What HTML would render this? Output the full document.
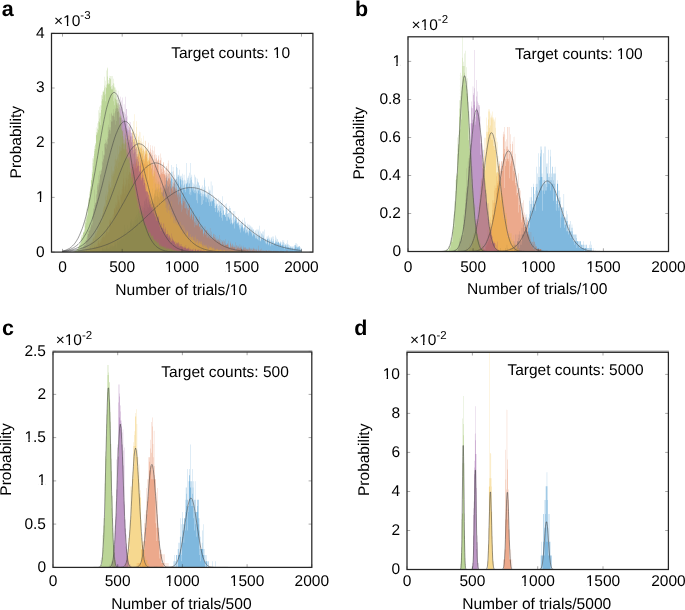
<!DOCTYPE html><html><head><meta charset="utf-8"><style>html,body{margin:0;padding:0;background:#fff}svg{display:block;will-change:transform}text{text-rendering:geometricPrecision;font-family:'Liberation Sans', sans-serif;fill:#000}</style></head><body>
<svg width="685" height="610" viewBox="0 0 685 610">
<g>
<clipPath id="cpa"><rect x="51.5" y="33.4" width="261.40" height="218.70"/></clipPath>
<g clip-path="url(#cpa)">
<path transform="matrix(0.119500,0,0,-0.97913000,62.5,252.1)" d="M0 0h218V1h2V0h6V1h2V0h2V1h2V0h12V2h2V0h6V1h2V3h2V0h4V1h4V0h2V1h2V0h8V4h2V0h2V1h2V0h2V1h10V0h2V2h2V1h2V0h2V1h2V2h2V5h2V0h2V1h4V2h2V1h2V0h2V1h8V2h2V3h2V4h8V3h2V2h2V3h2V5h2V3h2V5h2V1h2V4h2V2h2V3h2V6h2V4h2V6h6V4h2V3h4V8h4V4h2V3h2V4h2V3h2V4h2V2h2V4h2V8h2V6h2V4h2V7h2V6h2V10h2V8h2V7h2V3h2V6h2V5h2V10h2V6h2V7h2V5h2V6h6V12h2V10h2V9h2V6h2V7h2V13h2V8h2V10h4V9h2V12h2V4h2V6h2V13h2V11h2V13h2V14h2V12h2V11h2V9h2V15h4V11h2V12h2V14h2V15h2V16h2V15h2V12h4V16h2V19h2V14h2V18h2V13h2V15h6V18h2V15h2V14h2V20h2V29h2V12h2V20h2V28h2V24h2V18h2V21h2V25h2V17h2V18h2V20h2V23h2V18h2V19h2V28h2V27h2V20h2V24h4V18h2V23h2V19h2V25h2V24h2V22h2V30h2V32h2V31h2V20h2V34h2V21h2V30h2V33h2V34h2V27h2V26h4V32h2V31h2V29h2V28h2V34h2V20h2V32h2V34h2V28h2V37h2V36h2V33h2V27h2V33h2V34h2V29h2V38h2V44h2V35h4V33h2V39h2V28h2V44h4V41h2V25h2V42h2V37h2V42h2V40h2V33h2V36h2V47h2V41h2V37h2V43h4V50h2V42h2V47h2V37h2V45h2V39h2V46h2V43h2V48h2V45h2V53h2V52h4V42h2V55h2V49h2V54h2V44h2V60h2V55h2V54h2V42h2V48h2V51h2V50h2V46h2V55h2V46h2V57h2V45h2V54h2V64h2V52h2V56h4V48h2V52h2V55h2V58h2V51h2V53h2V52h2V50h2V54h2V65h2V43h2V51h2V54h2V55h2V50h2V58h2V56h2V59h2V63h2V60h2V57h2V63h2V64h2V70h2V51h2V66h2V57h2V64h2V57h2V64h2V65h2V61h2V59h2V72h2V65h2V56h4V62h2V54h2V65h2V61h2V57h2V73h2V66h4V61h4V66h2V58h2V73h2V60h2V68h2V61h2V62h2V64h2V66h2V64h2V68h2V67h2V63h2V78h2V55h2V69h2V65h2V69h2V73h2V74h2V77h2V81h2V76h2V73h2V68h2V78h2V65h2V71h2V67h2V76h2V67h2V80h2V74h2V61h2V69h2V70h2V73h2V72h2V67h2V81h2V89h2V76h2V82h2V75h2V60h2V82h2V75h2V63h2V87h2V67h2V74h2V67h2V70h2V74h2V79h2V73h2V70h2V74h2V75h2V64h2V74h2V87h2V90h2V62h2V75h2V77h2V72h2V61h2V86h2V79h2V70h2V79h2V77h2V78h2V84h2V61h2V60h2V75h4V77h2V78h2V73h2V78h2V69h2V65h2V74h2V60h2V80h2V76h2V73h2V66h2V65h2V68h2V73h2V79h2V69h2V64h2V74h2V70h2V64h2V61h2V73h2V64h2V70h2V69h2V91h2V70h2V71h2V66h2V76h2V74h2V76h2V78h2V65h2V67h2V70h2V59h2V70h2V81h2V73h2V76h2V61h2V91h2V58h2V66h2V74h2V77h2V79h2V65h2V63h2V66h2V71h2V67h2V70h2V61h2V65h2V69h2V79h2V63h2V60h2V64h2V60h2V77h2V67h2V76h2V69h2V62h2V53h2V65h2V75h2V60h2V72h2V50h2V71h2V63h4V71h2V59h2V68h2V64h2V68h2V64h2V62h2V64h2V60h2V57h2V48h2V66h2V60h2V57h2V59h2V68h2V49h2V62h2V57h2V66h2V59h2V53h2V64h2V59h2V76h2V74h2V56h2V59h2V67h2V57h2V51h2V61h2V56h4V58h2V60h2V55h2V60h2V54h2V51h2V58h2V60h2V67h2V54h2V62h2V64h2V47h2V63h2V51h2V52h2V58h2V72h2V47h2V56h2V52h2V53h2V68h2V52h4V55h2V54h4V56h2V58h2V53h2V54h2V45h2V50h2V47h2V45h2V55h2V41h2V49h2V55h2V47h2V48h2V50h2V45h2V49h2V41h2V40h2V43h2V42h2V47h2V55h2V51h2V36h2V48h2V41h2V42h2V47h2V53h2V45h2V50h2V40h2V50h2V35h2V47h2V38h2V32h2V57h2V46h2V48h2V43h2V42h2V38h6V39h2V38h2V40h2V36h4V49h2V45h2V50h2V32h2V45h2V39h2V44h2V32h2V39h2V36h2V40h4V36h2V35h2V33h2V47h2V34h2V45h2V29h2V35h2V42h2V45h2V33h2V39h2V30h2V41h2V35h2V28h2V29h2V30h2V29h2V37h2V30h2V42h2V37h2V31h2V24h2V33h2V42h2V34h2V36h4V32h2V33h2V34h2V35h2V29h2V30h4V31h2V29h2V27h2V30h2V31h2V36h2V28h4V25h2V23h2V33h2V24h2V30h2V20h2V28h2V27h2V31h2V25h2V30h2V28h2V33h2V26h2V30h2V24h4V25h2V21h2V22h2V35h2V25h4V28h2V20h2V31h2V28h2V19h2V25h2V23h2V20h2V23h2V21h2V20h2V29h2V26h2V17h2V22h2V19h2V28h2V21h2V24h2V28h2V24h2V26h2V22h2V27h2V21h4V26h2V24h2V19h2V20h2V16h2V23h2V17h2V25h2V20h2V23h2V18h2V23h2V18h2V19h2V17h2V19h2V22h4V14h2V17h2V15h2V14h2V23h2V17h2V19h2V17h2V23h2V13h4V21h2V23h2V16h2V12h2V16h2V17h2V18h2V27h2V11h2V12h2V21h2V11h2V15h2V19h4V14h4V18h2V13h2V21h2V13h2V17h2V21h2V15h2V14h2V23h2V12h2V14h2V11h2V13h2V14h2V9h2V13h2V12h2V11h2V9h2V8h2V16h2V13h2V14h2V13h2V16h2V14h2V7h2V17h2V8h2V15h2V13h2V12h2V10h2V11h2V8h2V6h2V12h2V15h2V8h2V15h2V13h2V11h4V10h2V16h2V7h4V13h2V16h2V11h2V9h4V8h2V9h2V12h2V17h2V10h2V9h2V15h2V10h2V11h2V7h2V13h4V9h2V10h2V6h2V10h6V11h2V6h2V9h2V8h2V9h2V10h2V8h2V9h2V11h2V10h2V5h2V7h8V12h2V8h2V10h2V7h2V10h2V5h2V12h2V3h2V5h2V9h2V7h2V8h4V6h2V7h4V9h2V4h2V5h2V7h2V8h2V12h2V5h6V8h2V5h2V7h2V4h2V7h2V5h2V4h2V6h2V4h2V5h2V6h2V5h2V3h2V4h2V6h2V4h2V6h2V5h2V4h4V2h2V3h2V6h2V4h4V3h2V7h4V5h2V9h2V7h4V6h2V5h2V9h2V3h2V8h2V4h2V5h4V6h2V5h4V6h2V2h2V6h6V4h2V5h2V3h2V1h2V2h2V3h2V4h2V0z" fill="#0072bd" fill-opacity="0.5"/>
<path transform="matrix(0.119500,0,0,-0.70927667,62.5,252.1)" d="M0 0h148V1h2V0h8V1h4V0h2V1h2V0h2V1h2V0h6V1h2V0h2V1h6V2h2V0h6V1h4V2h2V4h2V3h2V1h2V2h2V3h2V2h2V1h2V2h6V3h2V2h2V1h2V0h2V5h2V6h2V3h2V7h2V5h2V4h8V6h2V4h2V10h2V4h2V3h2V7h2V6h2V4h2V8h2V9h2V11h2V7h2V8h2V7h2V5h2V11h2V7h2V9h4V7h2V9h2V12h4V6h2V9h2V15h2V16h4V13h2V18h2V16h2V12h6V14h2V17h2V15h2V18h2V19h2V15h2V19h2V20h2V27h2V21h6V30h2V22h2V25h2V22h2V24h2V21h2V22h2V29h4V26h2V23h2V26h2V30h2V29h2V32h2V33h2V35h2V28h2V25h2V37h4V28h4V32h2V36h2V28h2V31h2V46h2V42h2V46h2V45h4V44h2V48h2V49h2V45h2V43h2V38h2V41h2V50h2V53h2V42h2V49h2V45h2V53h2V54h2V60h2V61h2V62h4V60h2V57h2V63h2V67h2V71h2V66h2V70h2V63h2V66h2V80h2V63h2V68h2V81h2V71h2V79h2V73h2V85h2V75h2V88h2V73h2V70h2V66h2V82h2V80h2V60h2V81h4V78h2V84h2V89h2V93h2V82h2V96h2V89h2V102h2V119h2V104h2V95h2V92h2V99h2V89h2V83h2V107h2V96h2V94h2V104h2V92h2V87h2V113h2V102h2V105h2V102h2V88h2V94h2V120h2V97h2V103h2V109h4V116h2V113h2V96h2V113h2V111h2V110h2V90h2V106h2V112h2V132h2V101h2V126h2V117h2V121h2V128h2V111h2V120h2V124h4V120h2V125h2V116h2V129h2V119h2V140h2V121h2V125h2V118h2V127h2V134h2V136h2V132h2V129h2V126h2V121h2V123h2V134h2V136h2V109h2V135h2V146h2V141h2V138h2V140h2V114h2V116h2V141h2V147h2V124h2V140h2V131h2V127h2V139h2V154h2V149h2V135h2V130h2V138h2V146h2V143h2V131h2V125h2V131h2V125h2V143h2V136h2V128h2V140h2V138h4V157h2V123h2V134h2V144h2V145h2V138h2V132h2V127h2V124h2V128h2V123h2V154h2V102h2V129h2V139h2V143h2V140h2V128h2V151h2V125h2V146h2V141h2V138h2V140h2V134h2V118h2V144h2V150h2V137h2V124h2V130h2V123h2V107h2V131h2V143h2V137h2V127h2V149h2V122h2V124h2V138h2V125h2V131h2V133h2V132h2V137h2V118h2V124h2V128h2V123h2V129h2V130h2V131h2V135h2V114h2V137h2V108h2V129h2V110h2V122h2V129h2V139h2V109h2V130h2V133h2V122h2V117h2V111h2V120h2V113h2V110h2V122h2V124h2V118h2V127h2V126h2V110h2V115h2V110h2V115h2V109h2V112h2V108h2V117h2V105h2V121h4V91h2V109h2V118h2V100h2V111h2V101h2V125h2V110h2V129h2V104h2V103h2V105h2V114h2V111h2V113h2V108h2V101h2V81h2V106h2V96h2V91h2V89h2V90h2V92h2V94h2V92h2V99h2V88h2V114h2V85h2V97h2V105h2V91h2V100h2V99h2V91h2V96h2V90h2V87h2V81h2V89h2V103h2V92h2V85h4V80h2V82h2V77h2V90h2V86h2V81h2V67h2V86h2V78h2V88h2V71h2V92h4V81h2V83h2V72h2V68h2V66h2V69h2V57h2V77h4V66h2V60h2V69h2V75h2V72h2V83h2V72h2V75h2V71h2V62h2V74h2V71h2V62h2V61h2V73h2V64h2V67h2V54h2V68h2V67h2V61h2V52h2V62h4V59h2V69h2V59h2V65h2V68h2V62h2V67h2V49h2V51h2V47h2V57h2V53h2V56h2V62h2V53h4V56h2V45h2V50h2V46h2V52h2V58h2V53h2V50h2V42h2V35h2V43h2V49h2V47h2V41h2V49h2V38h2V44h2V51h2V38h4V49h2V47h2V39h2V46h2V37h2V40h2V42h2V46h2V42h2V35h2V36h4V50h2V38h2V37h4V30h2V33h2V39h2V31h2V34h2V33h2V32h2V33h2V37h2V31h2V22h2V26h2V25h2V27h2V36h2V30h2V29h2V27h2V36h2V24h2V25h2V31h2V30h2V31h2V29h2V31h2V21h2V26h2V24h2V32h2V20h2V22h2V29h2V27h2V23h2V27h2V24h2V22h2V19h2V34h2V19h2V21h2V25h2V21h2V24h2V29h2V19h2V18h4V20h2V21h2V22h2V25h2V17h2V26h2V22h2V17h2V21h4V25h2V24h2V18h4V20h2V17h2V14h2V19h2V17h2V22h2V17h2V18h2V15h2V16h2V17h2V14h2V19h2V18h2V16h2V14h2V16h2V24h2V18h2V12h2V14h2V12h2V11h4V17h2V10h2V14h2V16h2V10h2V15h2V14h2V17h2V11h4V9h2V8h2V9h2V15h2V16h2V18h2V10h4V12h2V11h2V10h6V12h2V13h2V10h2V11h4V7h2V16h2V9h2V7h4V6h4V7h2V15h2V12h2V7h2V12h2V6h2V8h2V10h2V8h2V11h2V12h2V8h2V7h2V9h2V7h4V6h2V10h2V7h2V6h2V8h4V7h2V14h2V3h2V4h2V5h2V9h2V4h2V10h2V9h2V6h2V7h2V5h2V9h2V8h2V7h2V5h4V6h4V4h2V11h2V7h2V8h2V5h6V4h2V9h2V7h2V2h2V4h2V3h4V9h2V4h2V5h2V7h2V4h2V7h2V5h2V3h2V6h2V7h2V4h2V3h2V6h2V5h2V4h2V2h2V4h6V3h2V5h2V3h2V5h2V2h2V4h2V7h2V4h2V6h2V2h2V5h2V3h2V1h2V4h2V5h4V2h2V4h2V1h2V2h2V3h4V5h2V2h2V4h2V6h2V5h2V4h2V2h2V5h2V2h2V4h2V1h2V2h2V4h2V3h2V2h2V4h2V3h2V5h2V2h6V0h2V9h2V4h2V3h2V1h4V2h4V3h2V1h2V4h2V1h2V3h4V5h2V1h4V2h4V1h2V0h2V3h2V1h2V3h2V1h2V2h4V1h2V2h4V1h2V3h2V0h2V1h2V2h4V3h2V2h4V1h2V2h2V1h4V3h2V2h2V1h4V3h2V1h6V2h2V1h2V2h2V0h2V2h4V1h4V0h2V1h6V0h4V2h4V1h2V0h2V2h2V0h2V1h6V0h2V2h2V0h4V1h2V2h2V0h2V1h4V0h2V2h2V0h4V1h4V0h10V1h2V2h2V0h2V2h2V1h2V0h6V1h2V0h2V1h2V0h2V1h2V0h2V1h2V0h10V1h2V0h4V1h2V2h2V0h4V3h2V1h2V0h4V3h2V0h18V1h2V0h4V1h2V0h4V1h4V0h4V1h4V0h4V1h2V0h16V1h2V0h2V2h2V0h28V1h2V0h14V0z" fill="#d95319" fill-opacity="0.5"/>
<path transform="matrix(0.119500,0,0,-0.58437833,62.5,252.1)" d="M0 0h106V1h2V0h6V1h2V0h8V1h2V0h2V1h4V0h4V1h2V2h4V1h10V3h2V1h2V0h2V3h2V1h4V5h2V1h2V2h2V1h2V3h2V7h2V3h4V2h2V3h2V6h2V3h2V6h2V3h2V4h2V9h2V5h2V8h2V5h2V6h2V8h2V4h2V11h2V7h2V11h2V9h2V11h2V7h2V5h2V10h2V6h2V11h4V12h2V15h2V18h2V11h2V15h2V16h2V17h2V18h2V19h2V17h2V16h2V25h2V22h2V24h2V26h2V23h2V27h2V29h2V19h2V27h2V25h2V31h2V36h2V27h2V34h2V35h2V28h2V32h2V37h2V34h2V36h2V42h2V45h4V41h2V50h2V37h2V51h2V50h2V44h2V55h2V44h2V53h2V66h2V56h2V54h4V50h2V55h2V63h2V52h2V63h2V65h2V67h2V73h2V71h2V78h2V75h2V63h2V81h2V78h4V83h2V77h2V99h2V79h2V95h2V89h6V105h2V97h2V103h2V100h2V97h2V92h2V103h2V113h2V122h2V117h2V109h2V121h2V116h2V129h2V111h2V120h2V112h2V109h2V123h2V132h2V110h2V147h2V134h2V115h2V139h2V130h2V138h2V139h2V134h2V130h2V138h2V146h2V148h2V134h2V159h2V142h2V165h2V150h2V159h2V158h2V147h2V156h2V159h2V162h2V160h2V144h2V183h2V158h2V153h2V167h2V168h2V169h2V182h2V171h2V181h2V154h2V199h2V173h2V180h2V174h2V197h2V184h2V173h2V178h2V208h2V187h2V185h2V205h2V177h2V176h2V185h2V194h2V183h2V174h2V185h2V177h2V188h2V210h2V200h2V212h2V188h2V176h2V213h2V194h2V176h2V188h2V206h2V188h2V194h2V201h2V179h2V205h2V199h2V208h2V219h2V193h2V173h2V200h2V184h2V196h2V208h2V197h2V192h2V173h2V189h2V197h2V180h2V205h2V210h2V207h2V224h2V203h2V193h2V207h2V194h2V236h2V194h2V193h2V182h2V204h2V189h2V190h2V194h2V224h2V180h2V214h2V202h2V168h2V192h2V183h2V185h2V187h2V197h2V192h2V199h2V206h2V192h2V180h2V188h2V205h2V190h2V184h2V178h2V179h2V183h2V177h2V195h2V177h2V173h2V170h2V184h2V188h2V199h2V182h2V175h2V177h2V182h2V159h2V162h2V171h2V190h2V160h2V174h2V180h2V173h2V175h2V173h2V179h2V171h2V169h2V177h2V180h2V156h2V157h2V169h2V158h2V162h2V169h2V159h2V161h2V154h2V153h2V138h2V152h2V165h2V158h2V144h2V141h2V151h2V133h4V148h2V130h2V125h2V135h2V140h2V141h2V110h2V118h2V139h2V138h2V134h2V126h2V137h2V106h2V120h2V132h2V117h2V105h2V125h2V130h2V111h2V122h2V117h4V129h2V103h2V116h2V120h2V107h2V116h2V121h2V115h2V109h2V118h2V107h2V110h2V106h2V111h2V99h4V97h2V106h2V107h2V95h4V96h2V92h2V89h2V84h2V109h2V95h2V94h2V91h2V76h2V93h2V87h2V86h2V83h2V76h2V69h2V88h2V99h2V67h2V78h2V73h2V81h2V83h2V71h2V81h2V71h2V84h2V71h2V72h2V65h2V78h2V57h2V72h2V73h2V87h2V69h2V68h2V61h2V64h2V67h2V60h2V64h2V59h2V50h2V58h2V64h2V66h2V54h2V61h2V60h2V48h2V55h2V50h2V54h2V53h2V47h2V51h2V56h2V58h2V56h2V46h2V51h4V48h2V46h2V50h2V45h2V47h2V42h2V44h2V49h2V48h2V52h2V43h2V40h2V38h2V47h2V37h4V40h2V31h2V41h2V38h2V46h4V30h2V35h2V32h2V44h2V41h2V32h2V33h2V38h2V31h2V35h2V30h2V26h2V33h2V38h2V32h2V27h2V36h2V34h2V33h2V36h2V25h2V28h2V22h2V25h4V24h2V28h2V22h2V29h2V26h2V31h2V16h2V26h4V22h2V21h2V26h2V24h2V27h2V21h2V27h2V26h2V21h2V20h2V21h2V20h2V19h2V26h2V18h2V17h2V29h2V25h2V12h2V16h2V22h2V17h2V16h2V19h2V23h2V22h2V19h2V13h2V9h2V15h2V20h2V15h2V19h2V15h2V19h2V17h2V15h2V18h2V14h2V17h2V14h2V13h2V18h4V14h2V8h2V13h2V11h2V12h2V15h2V8h2V10h2V12h4V10h2V12h2V9h2V11h2V13h2V7h2V11h2V7h2V13h2V9h4V11h2V5h2V8h2V7h2V8h2V12h2V6h2V5h2V4h2V7h2V10h2V6h2V9h6V8h4V9h2V7h2V10h2V8h2V5h2V7h2V3h2V7h4V8h2V6h2V4h2V10h2V6h4V3h6V4h4V3h2V6h2V4h4V5h6V6h2V4h2V3h6V2h2V4h2V2h2V4h6V3h2V4h4V6h2V4h2V2h2V4h4V2h2V3h2V2h2V3h2V2h2V3h2V2h2V5h2V3h6V4h4V3h2V1h2V2h2V1h2V4h2V0h2V1h2V4h2V2h2V1h2V0h2V4h2V1h4V3h2V1h2V3h2V4h2V2h2V0h2V2h2V1h2V2h2V6h2V1h2V2h2V3h2V1h2V3h6V1h2V2h6V3h2V2h2V1h2V0h2V2h2V1h2V0h2V3h2V0h2V1h2V2h2V1h2V2h2V1h2V2h2V3h2V1h6V0h4V2h4V0h2V2h4V1h4V0h2V3h2V2h2V0h2V1h6V0h2V1h6V0h4V1h6V0h2V1h2V0h4V1h2V0h2V2h4V0h10V2h2V1h2V2h2V0h14V1h4V0h12V1h2V0h12V1h2V2h2V0h6V1h2V0h2V1h2V0h2V1h2V2h2V0h2V1h2V0h24V1h2V0h2V1h2V0h16V1h2V0h4V1h2V0h4V1h4V0h6V1h2V0h14V1h2V0h16V1h2V0h2V1h2V0h6V1h2V0h2V1h2V0h96V1h2V0h130V1h2V0h30V0z" fill="#edb120" fill-opacity="0.5"/>
<path transform="matrix(0.119500,0,0,-0.47680167,62.5,252.1)" d="M0 0h66V1h2V0h26V2h2V0h2V1h2V0h2V2h2V0h2V1h2V3h2V2h2V1h2V2h2V1h2V3h2V2h2V1h2V2h2V1h2V3h2V4h2V3h2V5h2V4h6V3h2V7h2V6h2V9h4V3h4V12h2V11h2V7h6V12h2V10h2V11h2V13h2V14h2V10h2V19h2V18h2V15h2V12h2V22h2V15h4V25h2V22h2V25h4V31h2V22h2V26h2V39h2V28h2V34h2V44h2V38h2V45h2V47h2V38h2V49h2V61h2V46h2V44h2V51h2V47h2V54h2V53h2V64h2V57h2V62h2V59h2V56h2V74h2V61h2V74h2V79h2V76h2V92h2V85h2V91h2V82h2V99h2V91h2V131h2V102h2V98h2V103h2V104h2V119h2V105h2V122h2V109h2V128h2V113h2V144h2V140h2V136h2V131h2V145h2V161h2V140h2V144h2V170h2V150h2V154h2V161h2V171h2V164h2V163h2V165h2V173h2V170h2V173h2V191h2V178h2V212h2V189h2V187h2V194h2V196h2V203h2V205h2V204h2V202h2V227h4V228h2V236h2V229h2V220h2V217h2V227h2V234h2V231h2V225h2V227h2V237h2V241h2V262h2V238h2V267h2V253h2V247h2V256h2V262h2V257h2V290h2V262h2V255h2V248h2V277h2V274h2V290h2V274h2V292h2V286h2V274h2V286h2V287h2V285h2V300h2V291h2V286h2V276h2V278h2V284h2V291h2V293h2V267h2V300h2V296h2V303h2V309h2V275h2V301h2V320h2V312h2V294h2V301h2V302h2V329h2V295h2V312h2V300h2V282h2V304h2V284h2V310h2V314h2V312h2V326h2V301h2V282h2V318h2V282h2V308h2V299h2V324h2V294h2V304h2V277h4V275h2V295h4V310h2V277h2V273h2V293h2V282h2V289h2V274h2V326h2V268h2V300h2V283h2V300h2V261h2V286h2V270h2V255h2V258h2V266h2V256h2V265h2V230h2V274h2V261h2V235h2V263h2V256h2V263h2V273h2V243h2V251h4V250h2V230h2V244h2V235h2V223h2V250h2V243h2V207h2V214h2V222h2V231h2V232h2V242h2V223h2V226h2V210h2V216h2V227h2V217h2V196h2V220h2V219h2V176h2V206h2V200h2V215h2V180h2V195h2V190h2V205h2V190h2V181h2V198h2V181h2V169h4V181h2V192h2V173h2V187h2V152h2V155h2V166h2V150h2V157h2V172h2V161h2V156h2V175h2V162h2V156h2V151h2V140h2V146h2V151h2V145h2V154h2V137h2V144h2V133h2V127h2V142h2V127h2V129h2V128h2V116h2V127h4V125h2V126h2V123h2V110h2V121h2V120h2V119h2V112h2V105h2V100h2V108h2V109h2V95h2V101h2V100h2V95h2V102h2V91h2V93h2V103h2V95h4V81h2V83h2V93h2V89h2V90h2V101h2V80h2V77h2V85h4V75h2V90h2V73h2V66h2V80h2V82h2V67h2V72h2V65h2V74h4V73h2V74h2V65h2V71h2V77h2V61h2V53h2V56h2V60h2V62h2V55h2V44h2V51h2V52h2V45h2V62h2V59h2V52h2V51h2V50h4V46h2V60h2V49h2V41h2V60h2V45h2V40h2V49h2V42h4V49h2V33h2V52h2V38h4V36h2V38h2V33h2V45h2V38h4V39h2V31h2V30h2V37h2V33h4V36h2V35h2V30h4V20h2V27h2V30h2V39h2V25h2V22h2V23h4V32h2V29h2V27h2V24h2V22h2V26h2V25h2V24h2V20h2V22h2V21h2V20h2V23h2V16h2V17h2V16h2V19h2V21h2V18h2V13h2V18h2V20h2V19h2V16h2V12h2V20h2V18h2V21h2V14h2V18h2V12h2V11h2V16h2V12h2V14h2V13h2V17h4V12h2V13h2V12h2V11h2V13h2V12h2V10h4V12h2V7h2V8h2V10h4V8h2V13h2V9h2V10h2V9h4V15h2V7h2V8h2V7h2V6h2V7h4V8h4V11h2V7h4V9h2V4h2V3h2V9h2V6h2V7h2V3h2V7h2V5h2V6h2V3h2V4h4V6h4V4h2V5h4V8h2V2h2V3h2V4h2V1h2V2h4V3h2V6h2V5h2V6h2V7h2V4h2V2h4V3h4V5h4V4h2V3h2V6h2V4h4V3h2V6h2V1h2V2h2V1h2V4h4V3h2V2h2V6h2V5h2V2h2V1h2V2h4V3h4V2h2V1h2V2h2V1h2V7h2V1h4V3h4V2h2V0h2V2h2V1h2V0h2V1h2V3h2V1h6V2h2V3h4V1h2V2h2V3h2V2h6V1h4V4h2V1h6V0h2V1h2V0h2V3h2V1h8V3h2V2h2V0h2V1h2V0h4V1h2V0h2V1h6V0h2V2h2V0h4V1h4V0h8V1h2V2h2V0h2V2h2V1h4V0h6V2h2V1h4V0h4V1h4V0h2V1h4V0h10V1h4V0h8V1h6V0h2V1h2V0h6V1h2V0h12V1h2V0h24V1h4V0h10V1h2V0h44V1h2V0h54V1h2V0h20V1h2V0h46V1h2V0h26V1h2V0h214V0z" fill="#7e2f8e" fill-opacity="0.5"/>
<path transform="matrix(0.119500,0,0,-0.39384000,62.5,252.1)" d="M0 0h66V1h2V0h14V1h2V0h4V1h2V2h2V0h2V1h2V2h2V1h2V3h4V2h2V3h4V4h6V5h2V4h2V8h8V7h2V14h2V9h2V13h2V14h2V18h2V15h2V23h2V18h2V22h2V19h2V32h2V23h2V30h2V25h2V43h2V37h2V39h2V44h2V37h2V44h2V35h2V50h2V49h2V52h2V50h2V54h2V58h2V51h2V78h2V67h2V82h2V76h2V85h2V73h2V85h2V111h2V101h2V90h2V93h2V96h2V110h2V115h2V133h2V137h2V119h2V126h2V139h2V137h2V148h2V154h2V166h2V158h2V162h2V168h2V184h2V183h2V182h2V189h2V208h2V203h2V198h2V238h2V226h2V218h2V235h2V244h2V238h2V269h2V257h2V250h2V262h2V277h2V272h2V275h2V262h2V317h2V297h2V304h2V298h2V305h2V302h2V313h2V327h2V314h2V310h2V333h2V360h2V330h4V369h2V339h2V354h2V322h2V373h2V345h2V354h2V383h2V361h2V399h2V372h2V396h2V408h2V389h2V400h2V385h2V407h2V408h2V411h2V406h2V445h2V416h2V423h2V398h2V419h2V383h2V402h2V435h2V416h2V418h2V461h2V425h2V426h2V466h2V446h2V469h2V429h2V437h2V428h2V425h2V428h2V442h4V427h2V448h2V420h2V447h2V439h2V441h2V415h2V413h2V447h2V422h2V412h2V447h2V424h2V415h2V421h2V429h2V383h2V440h2V428h2V420h2V373h2V417h2V392h2V412h2V389h2V418h2V401h2V380h2V397h2V412h2V386h2V377h2V372h2V387h2V390h2V410h2V357h2V378h2V386h2V373h2V375h2V354h2V324h2V381h2V342h2V350h2V347h2V345h2V347h2V313h2V335h2V310h2V307h2V295h2V338h2V308h2V310h2V285h2V294h2V277h2V315h2V301h2V276h2V285h2V262h2V283h2V298h2V290h2V274h2V241h2V277h2V288h2V252h2V256h2V271h2V237h2V238h2V233h2V241h2V246h2V236h2V241h2V242h2V226h2V241h2V214h2V213h2V204h2V200h2V224h2V213h2V191h2V180h2V189h2V183h2V197h2V189h2V195h2V199h2V170h2V172h2V173h2V172h4V158h2V190h2V158h4V153h2V157h2V141h2V145h2V150h2V135h2V137h2V127h2V130h2V114h2V137h2V123h2V134h2V110h2V121h2V109h2V112h2V99h2V109h2V108h2V102h2V96h2V105h2V91h2V103h2V117h2V95h4V99h2V88h2V90h2V95h2V100h2V88h2V81h2V70h2V74h2V72h2V67h2V75h2V69h2V67h2V77h2V68h6V62h2V57h2V59h2V53h2V60h2V58h2V59h2V51h2V39h2V49h2V50h2V57h2V50h8V47h2V39h2V47h2V40h2V43h2V40h2V32h2V42h2V44h2V40h2V31h2V41h2V39h2V33h2V32h2V33h2V31h2V30h2V29h2V33h2V29h2V24h2V28h2V30h2V27h2V25h2V26h2V34h2V27h2V24h2V22h2V25h2V20h2V25h2V23h2V33h2V18h2V20h2V18h2V15h2V16h2V17h2V21h2V14h2V16h2V14h2V16h2V13h2V20h2V14h2V12h2V15h2V14h2V16h2V14h2V13h2V15h2V11h2V10h2V8h2V15h2V12h2V14h2V9h2V12h2V10h2V8h2V14h2V10h2V5h2V7h4V11h2V9h2V11h4V10h2V8h2V7h2V3h2V8h2V9h2V8h2V11h2V9h2V8h2V10h4V11h2V5h4V9h2V7h4V4h4V6h2V4h2V3h2V6h2V5h2V4h2V5h4V4h2V3h2V2h2V5h2V4h2V2h2V5h2V4h2V3h2V2h6V4h2V2h2V3h4V2h4V3h2V5h2V1h2V2h4V5h2V1h2V4h2V2h4V3h2V1h2V3h2V0h2V4h2V1h4V3h4V0h2V1h2V2h2V4h2V1h2V0h2V2h2V0h4V2h2V1h2V3h4V2h2V0h2V2h2V0h6V1h6V2h2V1h2V3h2V0h2V2h2V0h2V1h6V0h4V1h8V0h2V1h2V0h6V1h8V0h4V1h6V0h2V1h2V0h4V1h2V0h12V1h2V0h6V1h2V0h8V1h2V0h12V1h4V0h20V1h4V0h4V1h6V0h34V1h2V0h6V1h2V0h56V1h2V0h28V1h2V0h182V0z" fill="#77ac30" fill-opacity="0.5"/>
<polyline points="62.5,251.7 63.2,251.6 63.9,251.6 64.6,251.6 65.3,251.6 66.0,251.5 66.7,251.5 67.4,251.5 68.1,251.4 68.8,251.4 69.5,251.4 70.2,251.3 70.9,251.3 71.6,251.2 72.3,251.2 73.0,251.1 73.7,251.1 74.5,251.0 75.2,251.0 75.9,250.9 76.6,250.9 77.3,250.8 78.0,250.8 78.7,250.7 79.4,250.6 80.1,250.5 80.8,250.5 81.5,250.4 82.2,250.3 82.9,250.2 83.6,250.1 84.3,250.0 85.0,249.9 85.7,249.8 86.4,249.7 87.1,249.6 87.8,249.5 88.5,249.4 89.2,249.3 89.9,249.2 90.6,249.0 91.3,248.9 92.0,248.8 92.7,248.6 93.4,248.5 94.1,248.3 94.8,248.2 95.5,248.0 96.2,247.8 96.9,247.7 97.6,247.5 98.3,247.3 99.1,247.1 99.8,246.9 100.5,246.7 101.2,246.5 101.9,246.3 102.6,246.0 103.3,245.8 104.0,245.6 104.7,245.3 105.4,245.1 106.1,244.8 106.8,244.5 107.5,244.3 108.2,244.0 108.9,243.7 109.6,243.4 110.3,243.1 111.0,242.8 111.7,242.5 112.4,242.1 113.1,241.8 113.8,241.4 114.5,241.1 115.2,240.7 115.9,240.4 116.6,240.0 117.3,239.6 118.0,239.2 118.7,238.8 119.4,238.4 120.1,237.9 120.8,237.5 121.5,237.1 122.2,236.6 123.0,236.2 123.7,235.7 124.4,235.2 125.1,234.7 125.8,234.3 126.5,233.8 127.2,233.2 127.9,232.7 128.6,232.2 129.3,231.7 130.0,231.1 130.7,230.6 131.4,230.0 132.1,229.5 132.8,228.9 133.5,228.3 134.2,227.7 134.9,227.1 135.6,226.5 136.3,225.9 137.0,225.3 137.7,224.7 138.4,224.1 139.1,223.4 139.8,222.8 140.5,222.2 141.2,221.5 141.9,220.9 142.6,220.2 143.3,219.6 144.0,218.9 144.7,218.2 145.4,217.6 146.1,216.9 146.9,216.2 147.6,215.6 148.3,214.9 149.0,214.2 149.7,213.5 150.4,212.8 151.1,212.2 151.8,211.5 152.5,210.8 153.2,210.1 153.9,209.5 154.6,208.8 155.3,208.1 156.0,207.5 156.7,206.8 157.4,206.1 158.1,205.5 158.8,204.8 159.5,204.2 160.2,203.6 160.9,202.9 161.6,202.3 162.3,201.7 163.0,201.1 163.7,200.5 164.4,199.9 165.1,199.3 165.8,198.7 166.5,198.2 167.2,197.6 167.9,197.1 168.6,196.5 169.3,196.0 170.1,195.5 170.8,195.0 171.5,194.5 172.2,194.0 172.9,193.6 173.6,193.1 174.3,192.7 175.0,192.3 175.7,191.9 176.4,191.5 177.1,191.2 177.8,190.8 178.5,190.5 179.2,190.2 179.9,189.9 180.6,189.6 181.3,189.3 182.0,189.1 182.7,188.8 183.4,188.6 184.1,188.4 184.8,188.3 185.5,188.1 186.2,188.0 186.9,187.9 187.6,187.8 188.3,187.7 189.0,187.6 189.7,187.6 190.4,187.6 191.1,187.6 191.8,187.6 192.5,187.6 193.2,187.7 193.9,187.7 194.7,187.8 195.4,188.0 196.1,188.1 196.8,188.2 197.5,188.4 198.2,188.6 198.9,188.8 199.6,189.0 200.3,189.3 201.0,189.5 201.7,189.8 202.4,190.1 203.1,190.4 203.8,190.8 204.5,191.1 205.2,191.5 205.9,191.8 206.6,192.2 207.3,192.7 208.0,193.1 208.7,193.5 209.4,194.0 210.1,194.4 210.8,194.9 211.5,195.4 212.2,195.9 212.9,196.4 213.6,197.0 214.3,197.5 215.0,198.1 215.7,198.6 216.4,199.2 217.1,199.8 217.8,200.4 218.6,201.0 219.3,201.6 220.0,202.2 220.7,202.8 221.4,203.5 222.1,204.1 222.8,204.7 223.5,205.4 224.2,206.0 224.9,206.7 225.6,207.4 226.3,208.0 227.0,208.7 227.7,209.4 228.4,210.0 229.1,210.7 229.8,211.4 230.5,212.1 231.2,212.7 231.9,213.4 232.6,214.1 233.3,214.8 234.0,215.4 234.7,216.1 235.4,216.8 236.1,217.5 236.8,218.1 237.5,218.8 238.2,219.5 238.9,220.1 239.6,220.8 240.3,221.4 241.0,222.1 241.8,222.7 242.5,223.3 243.2,224.0 243.9,224.6 244.6,225.2 245.3,225.8 246.0,226.4 246.7,227.0 247.4,227.6 248.1,228.2 248.8,228.8 249.5,229.4 250.2,229.9 250.9,230.5 251.6,231.0 252.3,231.6 253.0,232.1 253.7,232.6 254.4,233.2 255.1,233.7 255.8,234.2 256.5,234.7 257.2,235.2 257.9,235.6 258.6,236.1 259.3,236.6 260.0,237.0 260.7,237.4 261.4,237.9 262.1,238.3 262.8,238.7 263.5,239.1 264.2,239.5 264.9,239.9 265.6,240.3 266.4,240.7 267.1,241.0 267.8,241.4 268.5,241.7 269.2,242.1 269.9,242.4 270.6,242.7 271.3,243.0 272.0,243.3 272.7,243.6 273.4,243.9 274.1,244.2 274.8,244.5 275.5,244.8 276.2,245.0 276.9,245.3 277.6,245.5 278.3,245.8 279.0,246.0 279.7,246.2 280.4,246.4 281.1,246.7 281.8,246.9 282.5,247.1 283.2,247.3 283.9,247.4 284.6,247.6 285.3,247.8 286.0,248.0 286.7,248.1 287.4,248.3 288.1,248.5 288.8,248.6 289.5,248.7 290.3,248.9 291.0,249.0 291.7,249.1 292.4,249.3 293.1,249.4 293.8,249.5 294.5,249.6 295.2,249.7 295.9,249.8 296.6,249.9 297.3,250.0 298.0,250.1 298.7,250.2 299.4,250.3 300.1,250.4 300.8,250.5 301.5,250.5" fill="none" stroke="#444" stroke-width="0.55"/>
<polyline points="62.5,251.5 63.2,251.5 63.9,251.4 64.6,251.3 65.3,251.3 66.0,251.2 66.7,251.2 67.4,251.1 68.1,251.0 68.8,250.9 69.5,250.9 70.2,250.8 70.9,250.7 71.6,250.6 72.3,250.5 73.0,250.3 73.7,250.2 74.5,250.1 75.2,250.0 75.9,249.8 76.6,249.7 77.3,249.5 78.0,249.3 78.7,249.2 79.4,249.0 80.1,248.8 80.8,248.6 81.5,248.3 82.2,248.1 82.9,247.9 83.6,247.6 84.3,247.3 85.0,247.1 85.7,246.8 86.4,246.5 87.1,246.1 87.8,245.8 88.5,245.4 89.2,245.1 89.9,244.7 90.6,244.3 91.3,243.9 92.0,243.4 92.7,243.0 93.4,242.5 94.1,242.0 94.8,241.5 95.5,240.9 96.2,240.4 96.9,239.8 97.6,239.2 98.3,238.6 99.1,238.0 99.8,237.3 100.5,236.6 101.2,235.9 101.9,235.2 102.6,234.4 103.3,233.7 104.0,232.9 104.7,232.1 105.4,231.2 106.1,230.4 106.8,229.5 107.5,228.6 108.2,227.6 108.9,226.7 109.6,225.7 110.3,224.7 111.0,223.7 111.7,222.7 112.4,221.6 113.1,220.5 113.8,219.4 114.5,218.3 115.2,217.2 115.9,216.0 116.6,214.9 117.3,213.7 118.0,212.5 118.7,211.3 119.4,210.0 120.1,208.8 120.8,207.5 121.5,206.3 122.2,205.0 123.0,203.7 123.7,202.5 124.4,201.2 125.1,199.9 125.8,198.6 126.5,197.3 127.2,196.0 127.9,194.7 128.6,193.4 129.3,192.1 130.0,190.9 130.7,189.6 131.4,188.4 132.1,187.1 132.8,185.9 133.5,184.7 134.2,183.5 134.9,182.3 135.6,181.1 136.3,180.0 137.0,178.9 137.7,177.8 138.4,176.7 139.1,175.7 139.8,174.7 140.5,173.7 141.2,172.8 141.9,171.9 142.6,171.0 143.3,170.2 144.0,169.4 144.7,168.7 145.4,168.0 146.1,167.3 146.9,166.7 147.6,166.1 148.3,165.6 149.0,165.1 149.7,164.7 150.4,164.3 151.1,163.9 151.8,163.6 152.5,163.4 153.2,163.2 153.9,163.1 154.6,163.0 155.3,162.9 156.0,163.0 156.7,163.0 157.4,163.1 158.1,163.3 158.8,163.5 159.5,163.8 160.2,164.1 160.9,164.5 161.6,164.9 162.3,165.3 163.0,165.8 163.7,166.4 164.4,167.0 165.1,167.6 165.8,168.3 166.5,169.0 167.2,169.8 167.9,170.6 168.6,171.5 169.3,172.3 170.1,173.3 170.8,174.2 171.5,175.2 172.2,176.2 172.9,177.2 173.6,178.3 174.3,179.4 175.0,180.5 175.7,181.7 176.4,182.9 177.1,184.0 177.8,185.2 178.5,186.5 179.2,187.7 179.9,189.0 180.6,190.2 181.3,191.5 182.0,192.8 182.7,194.0 183.4,195.3 184.1,196.6 184.8,197.9 185.5,199.2 186.2,200.5 186.9,201.8 187.6,203.1 188.3,204.3 189.0,205.6 189.7,206.9 190.4,208.1 191.1,209.4 191.8,210.6 192.5,211.8 193.2,213.0 193.9,214.2 194.7,215.4 195.4,216.6 196.1,217.7 196.8,218.8 197.5,220.0 198.2,221.0 198.9,222.1 199.6,223.2 200.3,224.2 201.0,225.2 201.7,226.2 202.4,227.1 203.1,228.1 203.8,229.0 204.5,229.9 205.2,230.8 205.9,231.6 206.6,232.5 207.3,233.3 208.0,234.0 208.7,234.8 209.4,235.5 210.1,236.3 210.8,236.9 211.5,237.6 212.2,238.3 212.9,238.9 213.6,239.5 214.3,240.1 215.0,240.7 215.7,241.2 216.4,241.7 217.1,242.2 217.8,242.7 218.6,243.2 219.3,243.6 220.0,244.1 220.7,244.5 221.4,244.9 222.1,245.2 222.8,245.6 223.5,246.0 224.2,246.3 224.9,246.6 225.6,246.9 226.3,247.2 227.0,247.5 227.7,247.7 228.4,248.0 229.1,248.2 229.8,248.5 230.5,248.7 231.2,248.9 231.9,249.1 232.6,249.2 233.3,249.4 234.0,249.6 234.7,249.7 235.4,249.9 236.1,250.0 236.8,250.2 237.5,250.3 238.2,250.4 238.9,250.5 239.6,250.6 240.3,250.7 241.0,250.8 241.8,250.9 242.5,251.0 243.2,251.1 243.9,251.1 244.6,251.2 245.3,251.3 246.0,251.3 246.7,251.4 247.4,251.4 248.1,251.5 248.8,251.5 249.5,251.6 250.2,251.6 250.9,251.6 251.6,251.7 252.3,251.7 253.0,251.7 253.7,251.8 254.4,251.8 255.1,251.8 255.8,251.8 256.5,251.9 257.2,251.9 257.9,251.9 258.6,251.9 259.3,251.9 260.0,251.9 260.7,252.0 261.4,252.0 262.1,252.0 262.8,252.0 263.5,252.0 264.2,252.0 264.9,252.0 265.6,252.0 266.4,252.0 267.1,252.0 267.8,252.0 268.5,252.0 269.2,252.0 269.9,252.1 270.6,252.1 271.3,252.1 272.0,252.1 272.7,252.1 273.4,252.1 274.1,252.1 274.8,252.1 275.5,252.1 276.2,252.1 276.9,252.1 277.6,252.1 278.3,252.1 279.0,252.1 279.7,252.1 280.4,252.1 281.1,252.1 281.8,252.1 282.5,252.1 283.2,252.1 283.9,252.1 284.6,252.1 285.3,252.1 286.0,252.1 286.7,252.1 287.4,252.1 288.1,252.1 288.8,252.1 289.5,252.1 290.3,252.1 291.0,252.1 291.7,252.1 292.4,252.1 293.1,252.1 293.8,252.1 294.5,252.1 295.2,252.1 295.9,252.1 296.6,252.1 297.3,252.1 298.0,252.1 298.7,252.1 299.4,252.1 300.1,252.1 300.8,252.1 301.5,252.1" fill="none" stroke="#444" stroke-width="0.55"/>
<polyline points="62.5,251.4 63.2,251.3 63.9,251.2 64.6,251.1 65.3,251.1 66.0,251.0 66.7,250.9 67.4,250.7 68.1,250.6 68.8,250.5 69.5,250.3 70.2,250.2 70.9,250.0 71.6,249.9 72.3,249.7 73.0,249.5 73.7,249.3 74.4,249.0 75.1,248.8 75.8,248.5 76.5,248.2 77.2,247.9 78.0,247.6 78.7,247.3 79.4,246.9 80.1,246.5 80.8,246.1 81.5,245.7 82.2,245.3 82.9,244.8 83.6,244.3 84.3,243.7 85.0,243.2 85.7,242.6 86.4,242.0 87.1,241.3 87.8,240.6 88.5,239.9 89.2,239.1 89.9,238.3 90.6,237.5 91.3,236.7 92.0,235.7 92.7,234.8 93.4,233.8 94.1,232.8 94.8,231.7 95.5,230.6 96.2,229.5 96.9,228.3 97.6,227.1 98.3,225.8 99.0,224.5 99.7,223.2 100.4,221.8 101.1,220.4 101.8,218.9 102.5,217.4 103.2,215.9 103.9,214.3 104.6,212.7 105.3,211.1 106.0,209.4 106.7,207.7 107.4,206.0 108.2,204.2 108.9,202.4 109.6,200.6 110.3,198.8 111.0,196.9 111.7,195.1 112.4,193.2 113.1,191.3 113.8,189.4 114.5,187.5 115.2,185.6 115.9,183.7 116.6,181.8 117.3,179.9 118.0,178.0 118.7,176.2 119.4,174.3 120.1,172.5 120.8,170.7 121.5,168.9 122.2,167.2 122.9,165.5 123.6,163.8 124.3,162.2 125.0,160.7 125.7,159.1 126.4,157.7 127.1,156.3 127.8,154.9 128.5,153.6 129.2,152.4 129.9,151.3 130.6,150.2 131.3,149.2 132.0,148.3 132.7,147.5 133.4,146.7 134.1,146.0 134.8,145.5 135.5,145.0 136.2,144.5 136.9,144.2 137.6,144.0 138.4,143.8 139.1,143.8 139.8,143.8 140.5,144.0 141.2,144.2 141.9,144.5 142.6,144.9 143.3,145.4 144.0,146.0 144.7,146.6 145.4,147.4 146.1,148.2 146.8,149.1 147.5,150.1 148.2,151.1 148.9,152.3 149.6,153.5 150.3,154.8 151.0,156.1 151.7,157.5 152.4,158.9 153.1,160.5 153.8,162.0 154.5,163.6 155.2,165.3 155.9,167.0 156.6,168.7 157.3,170.5 158.0,172.3 158.7,174.1 159.4,175.9 160.1,177.8 160.8,179.7 161.5,181.6 162.2,183.5 162.9,185.4 163.6,187.3 164.3,189.2 165.0,191.1 165.7,193.0 166.4,194.8 167.1,196.7 167.8,198.6 168.6,200.4 169.3,202.2 170.0,204.0 170.7,205.8 171.4,207.5 172.1,209.2 172.8,210.9 173.5,212.5 174.2,214.1 174.9,215.7 175.6,217.2 176.3,218.7 177.0,220.2 177.7,221.6 178.4,223.0 179.1,224.4 179.8,225.7 180.5,226.9 181.2,228.2 181.9,229.4 182.6,230.5 183.3,231.6 184.0,232.7 184.7,233.7 185.4,234.7 186.1,235.6 186.8,236.5 187.5,237.4 188.2,238.2 188.9,239.0 189.6,239.8 190.3,240.5 191.0,241.2 191.7,241.9 192.4,242.5 193.1,243.1 193.8,243.7 194.5,244.2 195.2,244.7 195.9,245.2 196.6,245.7 197.3,246.1 198.1,246.5 198.8,246.9 199.5,247.2 200.2,247.6 200.9,247.9 201.6,248.2 202.3,248.5 203.0,248.7 203.7,249.0 204.4,249.2 205.1,249.4 205.8,249.6 206.5,249.8 207.2,250.0 207.9,250.2 208.6,250.3 209.3,250.5 210.0,250.6 210.7,250.7 211.4,250.8 212.1,250.9 212.8,251.0 213.5,251.1 214.2,251.2 214.9,251.3 215.6,251.4 216.3,251.4 217.0,251.5 217.7,251.5 218.4,251.6 219.1,251.6 219.8,251.7 220.5,251.7 221.2,251.8 221.9,251.8 222.6,251.8 223.3,251.8 224.0,251.9 224.7,251.9 225.4,251.9 226.1,251.9 226.8,251.9 227.5,252.0 228.3,252.0 229.0,252.0 229.7,252.0 230.4,252.0 231.1,252.0 231.8,252.0 232.5,252.0 233.2,252.0 233.9,252.0 234.6,252.1 235.3,252.1 236.0,252.1 236.7,252.1 237.4,252.1 238.1,252.1 238.8,252.1 239.5,252.1 240.2,252.1 240.9,252.1 241.6,252.1 242.3,252.1 243.0,252.1 243.7,252.1 244.4,252.1 245.1,252.1 245.8,252.1 246.5,252.1 247.2,252.1 247.9,252.1 248.6,252.1 249.3,252.1 250.0,252.1 250.7,252.1 251.4,252.1 252.1,252.1 252.8,252.1 253.5,252.1 254.2,252.1 254.9,252.1 255.6,252.1 256.3,252.1 257.0,252.1 257.7,252.1 258.5,252.1 259.2,252.1 259.9,252.1 260.6,252.1 261.3,252.1 262.0,252.1 262.7,252.1 263.4,252.1 264.1,252.1 264.8,252.1 265.5,252.1 266.2,252.1 266.9,252.1 267.6,252.1 268.3,252.1 269.0,252.1 269.7,252.1 270.4,252.1 271.1,252.1 271.8,252.1 272.5,252.1 273.2,252.1 273.9,252.1 274.6,252.1 275.3,252.1 276.0,252.1 276.7,252.1 277.4,252.1 278.1,252.1 278.8,252.1 279.5,252.1 280.2,252.1 280.9,252.1 281.6,252.1 282.3,252.1 283.0,252.1 283.7,252.1 284.4,252.1" fill="none" stroke="#444" stroke-width="0.55"/>
<polyline points="62.5,251.2 63.2,251.1 63.9,251.0 64.6,250.9 65.3,250.7 66.0,250.6 66.7,250.4 67.4,250.2 68.1,250.0 68.8,249.8 69.5,249.5 70.3,249.3 71.0,249.0 71.7,248.7 72.4,248.3 73.1,248.0 73.8,247.6 74.5,247.1 75.2,246.6 75.9,246.1 76.6,245.6 77.3,245.0 78.0,244.4 78.7,243.7 79.4,243.0 80.1,242.2 80.8,241.4 81.5,240.5 82.2,239.5 82.9,238.5 83.6,237.5 84.3,236.3 85.0,235.2 85.8,233.9 86.5,232.6 87.2,231.2 87.9,229.7 88.6,228.2 89.3,226.6 90.0,224.9 90.7,223.1 91.4,221.3 92.1,219.4 92.8,217.4 93.5,215.4 94.2,213.3 94.9,211.1 95.6,208.8 96.3,206.5 97.0,204.1 97.7,201.6 98.4,199.1 99.1,196.6 99.8,193.9 100.5,191.3 101.3,188.6 102.0,185.8 102.7,183.1 103.4,180.3 104.1,177.5 104.8,174.6 105.5,171.8 106.2,169.0 106.9,166.2 107.6,163.4 108.3,160.6 109.0,157.9 109.7,155.2 110.4,152.5 111.1,149.9 111.8,147.4 112.5,145.0 113.2,142.6 113.9,140.3 114.6,138.1 115.3,136.1 116.0,134.1 116.8,132.3 117.5,130.5 118.2,129.0 118.9,127.5 119.6,126.2 120.3,125.0 121.0,124.0 121.7,123.2 122.4,122.5 123.1,122.0 123.8,121.6 124.5,121.4 125.2,121.4 125.9,121.5 126.6,121.8 127.3,122.3 128.0,122.9 128.7,123.7 129.4,124.6 130.1,125.7 130.8,127.0 131.6,128.4 132.3,129.9 133.0,131.6 133.7,133.3 134.4,135.3 135.1,137.3 135.8,139.4 136.5,141.7 137.2,144.0 137.9,146.4 138.6,148.9 139.3,151.5 140.0,154.1 140.7,156.8 141.4,159.5 142.1,162.3 142.8,165.1 143.5,167.9 144.2,170.7 144.9,173.5 145.6,176.3 146.3,179.2 147.1,182.0 147.8,184.7 148.5,187.5 149.2,190.2 149.9,192.9 150.6,195.5 151.3,198.1 152.0,200.6 152.7,203.1 153.4,205.5 154.1,207.9 154.8,210.2 155.5,212.4 156.2,214.5 156.9,216.6 157.6,218.6 158.3,220.6 159.0,222.4 159.7,224.2 160.4,225.9 161.1,227.5 161.8,229.1 162.6,230.6 163.3,232.0 164.0,233.4 164.7,234.7 165.4,235.9 166.1,237.0 166.8,238.1 167.5,239.1 168.2,240.1 168.9,241.0 169.6,241.9 170.3,242.7 171.0,243.4 171.7,244.1 172.4,244.7 173.1,245.4 173.8,245.9 174.5,246.4 175.2,246.9 175.9,247.4 176.6,247.8 177.3,248.2 178.1,248.5 178.8,248.9 179.5,249.2 180.2,249.4 180.9,249.7 181.6,249.9 182.3,250.1 183.0,250.3 183.7,250.5 184.4,250.7 185.1,250.8 185.8,250.9 186.5,251.1 187.2,251.2 187.9,251.3 188.6,251.4 189.3,251.4 190.0,251.5 190.7,251.6 191.4,251.6 192.1,251.7 192.9,251.7 193.6,251.8 194.3,251.8 195.0,251.9 195.7,251.9 196.4,251.9 197.1,251.9 197.8,252.0 198.5,252.0 199.2,252.0 199.9,252.0 200.6,252.0 201.3,252.0 202.0,252.0 202.7,252.0 203.4,252.1 204.1,252.1 204.8,252.1 205.5,252.1 206.2,252.1 206.9,252.1 207.6,252.1 208.4,252.1 209.1,252.1 209.8,252.1 210.5,252.1 211.2,252.1 211.9,252.1 212.6,252.1 213.3,252.1 214.0,252.1 214.7,252.1 215.4,252.1 216.1,252.1 216.8,252.1 217.5,252.1 218.2,252.1 218.9,252.1 219.6,252.1 220.3,252.1 221.0,252.1 221.7,252.1 222.4,252.1 223.1,252.1 223.9,252.1 224.6,252.1 225.3,252.1 226.0,252.1 226.7,252.1 227.4,252.1 228.1,252.1 228.8,252.1 229.5,252.1 230.2,252.1 230.9,252.1 231.6,252.1 232.3,252.1 233.0,252.1 233.7,252.1 234.4,252.1 235.1,252.1 235.8,252.1 236.5,252.1 237.2,252.1 237.9,252.1 238.6,252.1 239.4,252.1 240.1,252.1 240.8,252.1 241.5,252.1 242.2,252.1 242.9,252.1 243.6,252.1" fill="none" stroke="#444" stroke-width="0.55"/>
<polyline points="62.5,251.0 63.2,250.9 63.9,250.7 64.6,250.5 65.3,250.3 66.0,250.0 66.7,249.7 67.4,249.4 68.1,249.1 68.8,248.7 69.6,248.3 70.3,247.8 71.0,247.2 71.7,246.7 72.4,246.0 73.1,245.3 73.8,244.6 74.5,243.7 75.2,242.8 75.9,241.8 76.6,240.7 77.3,239.5 78.0,238.3 78.7,236.9 79.4,235.4 80.1,233.8 80.8,232.1 81.5,230.3 82.3,228.3 83.0,226.3 83.7,224.1 84.4,221.8 85.1,219.3 85.8,216.7 86.5,214.0 87.2,211.1 87.9,208.1 88.6,205.0 89.3,201.8 90.0,198.4 90.7,194.9 91.4,191.3 92.1,187.6 92.8,183.8 93.5,179.9 94.2,176.0 95.0,171.9 95.7,167.8 96.4,163.7 97.1,159.5 97.8,155.4 98.5,151.2 99.2,147.0 99.9,142.9 100.6,138.8 101.3,134.8 102.0,130.8 102.7,127.0 103.4,123.3 104.1,119.7 104.8,116.3 105.5,113.0 106.2,109.9 106.9,107.1 107.7,104.4 108.4,102.0 109.1,99.9 109.8,98.0 110.5,96.3 111.2,94.9 111.9,93.9 112.6,93.1 113.3,92.6 114.0,92.4 114.7,92.5 115.4,92.9 116.1,93.6 116.8,94.5 117.5,95.8 118.2,97.4 118.9,99.2 119.6,101.3 120.4,103.6 121.1,106.2 121.8,108.9 122.5,111.9 123.2,115.1 123.9,118.5 124.6,122.0 125.3,125.7 126.0,129.5 126.7,133.4 127.4,137.4 128.1,141.5 128.8,145.6 129.5,149.8 130.2,153.9 130.9,158.1 131.6,162.3 132.3,166.4 133.1,170.6 133.8,174.6 134.5,178.6 135.2,182.5 135.9,186.4 136.6,190.1 137.3,193.7 138.0,197.2 138.7,200.7 139.4,203.9 140.1,207.1 140.8,210.1 141.5,213.0 142.2,215.8 142.9,218.4 143.6,220.9 144.3,223.3 145.0,225.5 145.8,227.7 146.5,229.6 147.2,231.5 147.9,233.2 148.6,234.9 149.3,236.4 150.0,237.8 150.7,239.1 151.4,240.3 152.1,241.4 152.8,242.5 153.5,243.4 154.2,244.3 154.9,245.1 155.6,245.8 156.3,246.5 157.0,247.1 157.7,247.6 158.5,248.1 159.2,248.5 159.9,248.9 160.6,249.3 161.3,249.6 162.0,249.9 162.7,250.2 163.4,250.4 164.1,250.6 164.8,250.8 165.5,251.0 166.2,251.1 166.9,251.2 167.6,251.4 168.3,251.5 169.0,251.5 169.7,251.6 170.4,251.7 171.2,251.7 171.9,251.8 172.6,251.8 173.3,251.9 174.0,251.9 174.7,251.9 175.4,252.0 176.1,252.0 176.8,252.0 177.5,252.0 178.2,252.0 178.9,252.0 179.6,252.0 180.3,252.1 181.0,252.1 181.7,252.1 182.4,252.1 183.1,252.1 183.9,252.1 184.6,252.1 185.3,252.1 186.0,252.1 186.7,252.1 187.4,252.1 188.1,252.1 188.8,252.1 189.5,252.1 190.2,252.1 190.9,252.1 191.6,252.1 192.3,252.1 193.0,252.1 193.7,252.1 194.4,252.1 195.1,252.1 195.8,252.1 196.6,252.1 197.3,252.1 198.0,252.1 198.7,252.1 199.4,252.1 200.1,252.1 200.8,252.1 201.5,252.1 202.2,252.1 202.9,252.1 203.6,252.1 204.3,252.1 205.0,252.1 205.7,252.1 206.4,252.1 207.1,252.1 207.8,252.1 208.5,252.1 209.3,252.1 210.0,252.1 210.7,252.1 211.4,252.1 212.1,252.1" fill="none" stroke="#444" stroke-width="0.55"/>
</g>
<path d="M62.5 252.1v-3.2M62.5 33.4v3.2M122.2 252.1v-3.2M122.2 33.4v3.2M182.0 252.1v-3.2M182.0 33.4v3.2M241.8 252.1v-3.2M241.8 33.4v3.2M301.5 252.1v-3.2M301.5 33.4v3.2M51.5 252.1h3.2M312.9 252.1h-3.2M51.5 197.4h3.2M312.9 197.4h-3.2M51.5 142.7h3.2M312.9 142.7h-3.2M51.5 88.0h3.2M312.9 88.0h-3.2M51.5 33.3h3.2M312.9 33.3h-3.2" stroke="#262626" stroke-width="0.4" fill="none"/>
<rect x="51.5" y="33.4" width="261.4" height="218.7" fill="none" stroke="#262626" stroke-width="1.25"/>
<text x="44.5" y="256.5" font-size="15.5" text-anchor="end">0</text>
<text x="44.5" y="201.8" font-size="15.5" text-anchor="end">1</text>
<text x="44.5" y="147.1" font-size="15.5" text-anchor="end">2</text>
<text x="44.5" y="92.4" font-size="15.5" text-anchor="end">3</text>
<text x="44.5" y="37.7" font-size="15.5" text-anchor="end">4</text>
<text x="62.5" y="271.9" font-size="15.5" text-anchor="middle">0</text>
<text x="122.2" y="271.9" font-size="15.5" text-anchor="middle">500</text>
<text x="182.0" y="271.9" font-size="15.5" text-anchor="middle">1000</text>
<text x="241.8" y="271.9" font-size="15.5" text-anchor="middle">1500</text>
<text x="301.5" y="271.9" font-size="15.5" text-anchor="middle">2000</text>
<text x="181.2" y="294.5" font-size="15.6" text-anchor="middle">Number of trials/10</text>
<text transform="translate(21.1,142.2) rotate(-90)" font-size="15.5" text-anchor="middle">Probability</text>
<text x="171.2" y="58" font-size="15.5">Target counts: 10</text>
<text x="54.0" y="25.5" font-size="15.5">×10<tspan font-size="11.5" dy="-6.6">-3</tspan></text>
<text x="1.7" y="16" font-size="21.5" font-weight="bold">a</text>
</g>
<g>
<clipPath id="cpb"><rect x="408.0" y="36.8" width="260.50" height="214.70"/></clipPath>
<g clip-path="url(#cpb)">
<path transform="matrix(0.130250,0,0,-3.38940333,408.0,251.5)" d="M684 0h22V1h2V0h2V1h2V0h34V1h4V0h4V2h2V0h6V1h2V0h2V2h2V0h14V1h2V0h4V1h4V0h2V1h4V0h2V2h2V1h4V2h2V0h4V3h2V2h4V3h2V1h2V2h4V5h2V1h4V2h4V5h2V3h8V5h2V3h2V4h2V5h2V1h2V6h2V3h2V2h2V3h2V5h2V3h2V2h2V3h2V7h2V5h6V7h2V5h2V8h4V5h2V7h2V5h2V6h6V10h2V6h2V8h2V7h2V10h2V7h2V11h2V7h2V5h2V6h4V10h2V9h4V8h2V7h2V11h2V15h2V16h2V14h2V12h4V14h2V10h2V16h2V19h2V13h2V15h2V12h2V13h2V19h4V20h2V14h2V17h2V14h2V13h2V15h2V12h2V15h2V18h2V20h2V16h2V25h2V19h2V20h2V18h2V23h2V16h2V29h2V16h2V22h2V17h2V25h2V18h2V22h2V21h2V29h2V31h2V28h2V22h2V30h2V22h2V31h2V23h2V22h2V12h2V18h2V21h2V29h2V20h2V18h2V31h2V21h4V17h2V31h2V18h2V20h4V25h2V26h2V18h2V19h2V23h2V26h2V23h2V21h2V22h2V30h2V20h2V21h2V20h2V23h2V22h2V28h2V21h2V18h2V30h2V23h2V20h2V21h2V22h2V20h2V25h4V20h2V23h2V15h2V21h2V23h4V18h2V20h2V25h2V17h2V18h2V23h2V12h2V15h4V14h2V21h2V20h6V18h2V13h2V14h2V12h2V15h2V16h2V18h2V15h2V16h2V7h2V14h2V10h2V12h2V13h6V11h4V13h2V10h2V13h2V10h2V17h2V7h2V10h4V8h2V10h2V8h4V10h2V9h2V12h2V6h2V9h4V6h2V11h2V6h2V5h2V6h2V8h2V7h2V8h4V6h4V9h2V6h2V4h2V7h2V6h2V5h2V8h2V7h2V6h2V4h2V5h2V3h4V5h4V2h2V5h2V3h4V5h2V3h2V5h2V3h2V4h2V5h2V1h2V3h10V2h4V3h4V2h2V1h2V3h6V1h4V2h6V1h4V2h6V3h2V1h4V0h2V1h2V2h2V1h6V2h2V1h2V2h4V0h2V1h4V0h4V1h2V0h2V1h2V0h4V2h2V1h2V0h2V1h2V3h2V0h2V1h2V2h2V0h2V1h2V0h8V1h2V0z" fill="#0072bd" fill-opacity="0.5"/>
<path transform="matrix(0.130250,0,0,-2.44227100,408.0,251.5)" d="M493 0h4V1h2V0h18V1h2V0h4V1h2V0h16V1h4V2h2V0h2V2h2V1h4V0h4V1h6V0h2V2h2V1h6V2h4V1h2V2h4V1h2V0h2V1h2V3h2V0h2V3h2V2h4V4h4V5h2V3h2V4h2V5h2V9h2V7h2V4h2V7h2V5h2V10h4V5h2V12h2V14h2V7h2V10h2V13h2V9h2V11h2V10h2V13h2V21h2V15h2V17h2V15h2V20h2V15h2V21h2V18h2V25h2V20h2V27h2V17h2V20h2V26h2V18h2V24h2V26h2V32h2V27h2V29h2V28h2V27h2V35h2V25h2V32h4V29h2V37h2V35h2V36h2V21h2V34h2V33h2V30h2V37h4V35h2V33h2V37h2V33h2V35h2V48h2V49h2V40h2V47h2V26h2V51h2V42h2V48h2V35h2V45h2V38h4V43h2V37h2V46h2V42h2V38h2V51h2V43h2V51h2V37h2V38h2V42h2V41h2V51h2V30h2V40h2V44h2V36h2V48h2V35h2V39h2V37h2V41h4V45h2V44h2V39h2V29h2V33h2V36h2V38h2V47h2V32h2V34h4V40h2V27h2V32h2V28h2V31h2V28h2V30h2V23h2V24h2V25h2V24h2V27h2V32h2V16h2V26h2V22h2V26h4V19h2V21h2V22h2V25h2V17h2V20h2V12h2V16h2V13h2V15h2V18h2V20h2V14h2V15h2V14h2V21h2V14h2V13h2V10h2V16h2V10h4V15h2V9h2V14h2V12h2V7h2V11h2V12h2V8h2V13h4V7h2V6h2V8h2V7h4V4h2V6h2V4h2V3h4V5h2V8h2V4h2V3h2V2h2V4h2V2h2V4h2V2h2V4h2V6h2V3h2V1h4V4h4V1h2V2h2V0h2V3h2V2h2V1h2V2h4V1h8V0h2V1h10V0h2V1h12V0h2V0z" fill="#d95319" fill-opacity="0.5"/>
<path transform="matrix(0.130250,0,0,-2.03047433,408.0,251.5)" d="M410 0h32V1h2V0h2V1h4V2h2V0h2V1h2V0h2V1h2V2h2V1h2V2h2V0h2V1h2V2h2V1h2V4h2V2h12V3h4V6h2V5h4V7h2V5h2V9h2V8h2V5h2V8h2V9h2V4h2V6h2V13h2V12h2V15h2V13h2V16h2V14h2V16h2V13h2V16h2V15h2V22h2V16h2V18h2V14h2V22h2V26h2V23h2V24h2V30h2V28h2V32h2V28h2V36h4V32h2V35h2V36h2V43h2V33h2V47h2V46h2V44h2V43h2V37h2V41h2V50h2V56h2V47h2V40h2V42h2V56h2V51h2V59h2V49h2V66h2V58h2V52h2V62h2V59h2V70h2V65h2V59h2V69h4V61h2V70h2V56h2V62h2V59h2V66h2V68h2V66h2V67h2V55h2V65h2V55h2V66h2V69h2V57h2V66h2V65h2V52h2V50h2V52h2V64h2V65h2V66h2V50h2V61h2V54h2V56h2V37h2V39h2V47h2V54h2V39h4V47h2V34h2V42h2V38h2V43h4V35h2V31h2V30h2V37h2V22h2V29h2V34h2V29h2V30h2V26h2V28h2V27h4V19h2V22h2V16h2V25h2V17h2V22h2V21h2V15h2V16h2V19h2V12h2V18h2V17h2V16h2V19h2V13h2V7h4V13h2V9h2V10h2V9h4V6h2V10h2V7h4V9h2V7h2V9h2V4h2V6h2V3h2V9h2V5h4V6h2V2h2V3h4V5h2V2h2V8h2V0h2V4h4V1h2V3h2V2h2V1h2V2h4V1h2V3h2V4h2V1h6V0h2V1h4V2h2V0z" fill="#edb120" fill-opacity="0.5"/>
<path transform="matrix(0.130250,0,0,-1.66619267,408.0,251.5)" d="M336 0h20V1h2V0h2V1h2V0h2V1h4V0h2V1h2V0h8V2h4V4h2V2h2V3h2V2h2V3h2V6h4V8h2V6h2V4h2V6h2V9h2V8h2V10h2V9h2V7h2V9h2V10h6V16h2V22h2V16h2V25h2V19h4V21h2V26h2V31h2V29h2V36h2V38h2V35h2V50h2V32h2V43h2V39h4V54h2V51h2V45h2V56h2V51h2V56h2V69h2V58h2V64h2V57h2V61h2V77h2V87h2V77h2V90h2V86h4V77h2V79h2V99h2V76h2V94h2V95h2V88h2V90h2V121h2V98h2V76h2V78h2V81h2V83h2V87h2V103h2V93h2V86h2V85h2V96h2V90h2V84h2V83h2V88h2V89h2V80h2V87h2V77h2V88h2V81h2V65h2V58h2V71h2V70h2V69h2V64h2V65h2V58h2V61h2V53h2V50h2V61h2V49h2V54h2V47h2V42h2V41h2V43h2V37h4V34h2V30h2V37h2V29h2V30h2V35h2V29h2V23h2V26h2V20h2V21h2V24h2V18h2V29h2V19h2V15h2V11h2V12h2V13h2V17h2V10h2V12h2V10h2V5h2V14h2V9h2V7h2V6h2V9h2V6h4V5h4V6h2V5h6V2h2V5h2V2h6V4h2V1h6V6h2V0h2V1h6V0h2V0z" fill="#7e2f8e" fill-opacity="0.5"/>
<path transform="matrix(0.130250,0,0,-1.37476733,408.0,251.5)" d="M277 0h6V1h2V0h2V1h2V0h2V1h2V2h2V0h2V1h6V2h2V1h6V0h2V4h2V3h2V4h2V3h2V2h2V3h2V5h2V6h2V10h2V8h4V7h2V10h2V7h2V16h2V14h2V15h2V20h2V27h2V24h2V18h2V29h2V30h2V37h2V36h2V44h2V35h2V52h2V53h2V57h2V55h2V56h4V71h2V83h2V75h2V78h4V85h2V88h2V98h2V110h2V104h2V130h2V89h2V110h2V113h2V96h2V117h2V120h2V128h2V121h2V166h2V141h2V135h2V127h2V138h2V135h2V125h2V135h2V144h2V130h2V127h2V126h2V146h2V121h2V124h2V134h2V120h2V115h2V126h2V113h2V115h2V118h2V109h2V102h2V81h2V102h2V93h2V90h2V75h2V72h2V66h2V78h2V73h2V71h2V56h2V49h2V54h2V62h2V44h2V53h2V42h2V46h2V39h4V33h2V35h2V32h2V25h2V34h2V20h2V23h2V17h4V18h2V12h2V15h2V13h4V11h2V13h2V10h2V9h2V8h4V9h2V7h2V5h2V1h2V6h2V2h2V5h2V3h2V2h4V1h2V2h2V5h2V2h2V1h2V2h2V0z" fill="#77ac30" fill-opacity="0.5"/>
<polyline points="463.7,251.5 464.5,251.5 465.2,251.5 465.9,251.5 466.6,251.5 467.3,251.5 468.0,251.5 468.7,251.5 469.4,251.5 470.1,251.5 470.8,251.5 471.5,251.5 472.2,251.5 472.9,251.5 473.6,251.5 474.3,251.5 475.0,251.5 475.7,251.5 476.4,251.5 477.2,251.5 477.9,251.5 478.6,251.5 479.3,251.5 480.0,251.5 480.7,251.5 481.4,251.5 482.1,251.5 482.8,251.5 483.5,251.5 484.2,251.5 484.9,251.5 485.6,251.5 486.3,251.5 487.0,251.5 487.7,251.5 488.4,251.5 489.2,251.5 489.9,251.5 490.6,251.5 491.3,251.5 492.0,251.5 492.7,251.5 493.4,251.5 494.1,251.5 494.8,251.4 495.5,251.4 496.2,251.4 496.9,251.4 497.6,251.4 498.3,251.4 499.0,251.3 499.7,251.3 500.4,251.3 501.1,251.2 501.9,251.2 502.6,251.1 503.3,251.0 504.0,250.9 504.7,250.9 505.4,250.7 506.1,250.6 506.8,250.5 507.5,250.3 508.2,250.1 508.9,249.9 509.6,249.7 510.3,249.4 511.0,249.1 511.7,248.8 512.4,248.5 513.1,248.0 513.8,247.6 514.6,247.1 515.3,246.5 516.0,245.9 516.7,245.3 517.4,244.5 518.1,243.7 518.8,242.9 519.5,242.0 520.2,241.0 520.9,239.9 521.6,238.7 522.3,237.5 523.0,236.2 523.7,234.8 524.4,233.3 525.1,231.7 525.8,230.1 526.6,228.4 527.3,226.6 528.0,224.8 528.7,222.8 529.4,220.9 530.1,218.8 530.8,216.8 531.5,214.7 532.2,212.5 532.9,210.4 533.6,208.2 534.3,206.0 535.0,203.9 535.7,201.8 536.4,199.7 537.1,197.6 537.8,195.7 538.5,193.8 539.3,192.0 540.0,190.3 540.7,188.7 541.4,187.2 542.1,185.9 542.8,184.7 543.5,183.7 544.2,182.8 544.9,182.1 545.6,181.6 546.3,181.2 547.0,181.0 547.7,181.0 548.4,181.2 549.1,181.6 549.8,182.1 550.5,182.8 551.2,183.7 552.0,184.7 552.7,185.9 553.4,187.2 554.1,188.7 554.8,190.3 555.5,192.0 556.2,193.8 556.9,195.7 557.6,197.6 558.3,199.7 559.0,201.8 559.7,203.9 560.4,206.0 561.1,208.2 561.8,210.4 562.5,212.5 563.2,214.7 564.0,216.8 564.7,218.8 565.4,220.9 566.1,222.8 566.8,224.8 567.5,226.6 568.2,228.4 568.9,230.1 569.6,231.7 570.3,233.3 571.0,234.8 571.7,236.2 572.4,237.5 573.1,238.7 573.8,239.9 574.5,241.0 575.2,242.0 575.9,242.9 576.7,243.7 577.4,244.5 578.1,245.3 578.8,245.9 579.5,246.5 580.2,247.1 580.9,247.6 581.6,248.0 582.3,248.5 583.0,248.8 583.7,249.1 584.4,249.4 585.1,249.7 585.8,249.9 586.5,250.1 587.2,250.3 587.9,250.5 588.6,250.6 589.4,250.7 590.1,250.9 590.8,250.9 591.5,251.0 592.2,251.1 592.9,251.2 593.6,251.2 594.3,251.3 595.0,251.3 595.7,251.3 596.4,251.4 597.1,251.4 597.8,251.4 598.5,251.4 599.2,251.4 599.9,251.4 600.6,251.5 601.4,251.5 602.1,251.5 602.8,251.5 603.5,251.5 604.2,251.5 604.9,251.5 605.6,251.5 606.3,251.5 607.0,251.5 607.7,251.5 608.4,251.5 609.1,251.5 609.8,251.5 610.5,251.5 611.2,251.5 611.9,251.5 612.6,251.5 613.3,251.5 614.1,251.5 614.8,251.5 615.5,251.5 616.2,251.5 616.9,251.5 617.6,251.5 618.3,251.5 619.0,251.5 619.7,251.5 620.4,251.5 621.1,251.5 621.8,251.5 622.5,251.5 623.2,251.5 623.9,251.5 624.6,251.5 625.3,251.5 626.0,251.5 626.8,251.5 627.5,251.5 628.2,251.5 628.9,251.5 629.6,251.5 630.3,251.5 631.0,251.5" fill="none" stroke="#444" stroke-width="0.55"/>
<polyline points="448.2,251.5 448.9,251.5 449.6,251.5 450.3,251.5 451.0,251.5 451.7,251.5 452.4,251.5 453.1,251.5 453.8,251.5 454.5,251.5 455.2,251.5 455.9,251.5 456.6,251.5 457.3,251.5 458.0,251.5 458.7,251.5 459.4,251.5 460.1,251.5 460.9,251.5 461.6,251.5 462.3,251.5 463.0,251.5 463.7,251.5 464.4,251.5 465.1,251.5 465.8,251.5 466.5,251.5 467.2,251.5 467.9,251.5 468.6,251.5 469.3,251.4 470.0,251.4 470.7,251.4 471.4,251.4 472.1,251.4 472.8,251.3 473.5,251.3 474.2,251.2 474.9,251.1 475.7,251.0 476.4,250.9 477.1,250.7 477.8,250.5 478.5,250.3 479.2,250.1 479.9,249.7 480.6,249.3 481.3,248.9 482.0,248.3 482.7,247.7 483.4,247.0 484.1,246.1 484.8,245.2 485.5,244.0 486.2,242.8 486.9,241.3 487.6,239.7 488.3,237.9 489.0,235.9 489.7,233.7 490.5,231.2 491.2,228.6 491.9,225.7 492.6,222.6 493.3,219.3 494.0,215.8 494.7,212.1 495.4,208.2 496.1,204.2 496.8,200.1 497.5,195.9 498.2,191.6 498.9,187.3 499.6,183.1 500.3,178.9 501.0,174.9 501.7,171.0 502.4,167.3 503.1,164.0 503.8,160.9 504.5,158.2 505.3,155.8 506.0,153.9 506.7,152.5 507.4,151.5 508.1,151.0 508.8,151.0 509.5,151.5 510.2,152.5 510.9,153.9 511.6,155.8 512.3,158.2 513.0,160.9 513.7,164.0 514.4,167.3 515.1,171.0 515.8,174.9 516.5,178.9 517.2,183.1 517.9,187.3 518.6,191.6 519.3,195.9 520.1,200.1 520.8,204.2 521.5,208.2 522.2,212.1 522.9,215.8 523.6,219.3 524.3,222.6 525.0,225.7 525.7,228.6 526.4,231.2 527.1,233.7 527.8,235.9 528.5,237.9 529.2,239.7 529.9,241.3 530.6,242.8 531.3,244.0 532.0,245.2 532.7,246.1 533.4,247.0 534.1,247.7 534.8,248.3 535.6,248.9 536.3,249.3 537.0,249.7 537.7,250.1 538.4,250.3 539.1,250.5 539.8,250.7 540.5,250.9 541.2,251.0 541.9,251.1 542.6,251.2 543.3,251.3 544.0,251.3 544.7,251.4 545.4,251.4 546.1,251.4 546.8,251.4 547.5,251.4 548.2,251.5 548.9,251.5 549.6,251.5 550.4,251.5 551.1,251.5 551.8,251.5 552.5,251.5 553.2,251.5 553.9,251.5 554.6,251.5 555.3,251.5 556.0,251.5 556.7,251.5 557.4,251.5 558.1,251.5 558.8,251.5 559.5,251.5 560.2,251.5 560.9,251.5 561.6,251.5 562.3,251.5 563.0,251.5 563.7,251.5 564.4,251.5 565.2,251.5 565.9,251.5 566.6,251.5 567.3,251.5 568.0,251.5 568.7,251.5" fill="none" stroke="#444" stroke-width="0.55"/>
<polyline points="441.4,251.5 442.1,251.5 442.8,251.5 443.5,251.5 444.2,251.5 444.9,251.5 445.6,251.5 446.3,251.5 447.0,251.5 447.7,251.5 448.5,251.5 449.2,251.5 449.9,251.5 450.6,251.5 451.3,251.5 452.0,251.5 452.7,251.5 453.4,251.5 454.1,251.5 454.8,251.5 455.5,251.5 456.2,251.5 456.9,251.5 457.6,251.5 458.3,251.5 459.0,251.4 459.7,251.4 460.4,251.4 461.2,251.3 461.9,251.3 462.6,251.2 463.3,251.1 464.0,251.0 464.7,250.8 465.4,250.6 466.1,250.3 466.8,250.0 467.5,249.6 468.2,249.1 468.9,248.4 469.6,247.7 470.3,246.7 471.0,245.6 471.7,244.3 472.4,242.7 473.1,240.9 473.9,238.7 474.6,236.3 475.3,233.5 476.0,230.4 476.7,226.9 477.4,223.0 478.1,218.8 478.8,214.1 479.5,209.2 480.2,203.9 480.9,198.3 481.6,192.5 482.3,186.5 483.0,180.5 483.7,174.4 484.4,168.4 485.1,162.5 485.8,157.0 486.6,151.8 487.3,147.0 488.0,142.9 488.7,139.3 489.4,136.5 490.1,134.4 490.8,133.1 491.5,132.7 492.2,133.1 492.9,134.4 493.6,136.5 494.3,139.3 495.0,142.9 495.7,147.0 496.4,151.8 497.1,157.0 497.8,162.5 498.5,168.4 499.3,174.4 500.0,180.5 500.7,186.5 501.4,192.5 502.1,198.3 502.8,203.9 503.5,209.2 504.2,214.1 504.9,218.8 505.6,223.0 506.3,226.9 507.0,230.4 507.7,233.5 508.4,236.3 509.1,238.7 509.8,240.9 510.5,242.7 511.2,244.3 512.0,245.6 512.7,246.7 513.4,247.7 514.1,248.4 514.8,249.1 515.5,249.6 516.2,250.0 516.9,250.3 517.6,250.6 518.3,250.8 519.0,251.0 519.7,251.1 520.4,251.2 521.1,251.3 521.8,251.3 522.5,251.4 523.2,251.4 523.9,251.4 524.7,251.5 525.4,251.5 526.1,251.5 526.8,251.5 527.5,251.5 528.2,251.5 528.9,251.5 529.6,251.5 530.3,251.5 531.0,251.5 531.7,251.5 532.4,251.5 533.1,251.5 533.8,251.5 534.5,251.5 535.2,251.5 535.9,251.5 536.6,251.5 537.4,251.5 538.1,251.5 538.8,251.5 539.5,251.5 540.2,251.5 540.9,251.5 541.6,251.5" fill="none" stroke="#444" stroke-width="0.55"/>
<polyline points="435.4,251.5 436.1,251.5 436.8,251.5 437.5,251.5 438.2,251.5 438.9,251.5 439.7,251.5 440.4,251.5 441.1,251.5 441.8,251.5 442.5,251.5 443.2,251.5 443.9,251.5 444.6,251.5 445.3,251.5 446.0,251.5 446.7,251.5 447.5,251.5 448.2,251.5 448.9,251.5 449.6,251.4 450.3,251.4 451.0,251.4 451.7,251.3 452.4,251.2 453.1,251.1 453.8,250.9 454.5,250.7 455.2,250.4 456.0,249.9 456.7,249.4 457.4,248.6 458.1,247.7 458.8,246.5 459.5,245.0 460.2,243.1 460.9,240.9 461.6,238.1 462.3,234.8 463.0,231.0 463.8,226.5 464.5,221.3 465.2,215.5 465.9,209.0 466.6,201.8 467.3,194.1 468.0,185.9 468.7,177.3 469.4,168.5 470.1,159.6 470.8,150.8 471.6,142.4 472.3,134.6 473.0,127.5 473.7,121.3 474.4,116.4 475.1,112.7 475.8,110.5 476.5,109.7 477.2,110.5 477.9,112.7 478.6,116.4 479.3,121.3 480.1,127.5 480.8,134.6 481.5,142.4 482.2,150.8 482.9,159.6 483.6,168.5 484.3,177.3 485.0,185.9 485.7,194.1 486.4,201.8 487.1,209.0 487.9,215.5 488.6,221.3 489.3,226.5 490.0,231.0 490.7,234.8 491.4,238.1 492.1,240.9 492.8,243.1 493.5,245.0 494.2,246.5 494.9,247.7 495.6,248.6 496.4,249.4 497.1,249.9 497.8,250.4 498.5,250.7 499.2,250.9 499.9,251.1 500.6,251.2 501.3,251.3 502.0,251.4 502.7,251.4 503.4,251.4 504.2,251.5 504.9,251.5 505.6,251.5 506.3,251.5 507.0,251.5 507.7,251.5 508.4,251.5 509.1,251.5 509.8,251.5 510.5,251.5 511.2,251.5 511.9,251.5 512.7,251.5 513.4,251.5 514.1,251.5 514.8,251.5 515.5,251.5 516.2,251.5 516.9,251.5 517.6,251.5" fill="none" stroke="#444" stroke-width="0.55"/>
<polyline points="430.6,251.5 431.3,251.5 432.0,251.5 432.8,251.5 433.5,251.5 434.2,251.5 434.9,251.5 435.6,251.5 436.3,251.5 437.0,251.5 437.8,251.5 438.5,251.5 439.2,251.5 439.9,251.5 440.6,251.5 441.3,251.5 442.0,251.4 442.8,251.4 443.5,251.3 444.2,251.2 444.9,251.1 445.6,250.9 446.3,250.5 447.0,250.0 447.7,249.4 448.5,248.4 449.2,247.1 449.9,245.3 450.6,243.0 451.3,240.0 452.0,236.2 452.7,231.4 453.5,225.6 454.2,218.6 454.9,210.4 455.6,200.9 456.3,190.2 457.0,178.5 457.7,165.8 458.5,152.6 459.2,139.1 459.9,125.9 460.6,113.2 461.3,101.8 462.0,91.9 462.7,84.1 463.5,78.6 464.2,75.9 464.9,75.9 465.6,78.6 466.3,84.1 467.0,91.9 467.7,101.8 468.5,113.2 469.2,125.9 469.9,139.1 470.6,152.6 471.3,165.8 472.0,178.5 472.7,190.2 473.5,200.9 474.2,210.4 474.9,218.6 475.6,225.6 476.3,231.4 477.0,236.2 477.7,240.0 478.5,243.0 479.2,245.3 479.9,247.1 480.6,248.4 481.3,249.4 482.0,250.0 482.7,250.5 483.5,250.9 484.2,251.1 484.9,251.2 485.6,251.3 486.3,251.4 487.0,251.4 487.7,251.5 488.4,251.5 489.2,251.5 489.9,251.5 490.6,251.5 491.3,251.5 492.0,251.5 492.7,251.5 493.4,251.5 494.2,251.5 494.9,251.5 495.6,251.5 496.3,251.5 497.0,251.5 497.7,251.5 498.4,251.5" fill="none" stroke="#444" stroke-width="0.55"/>
</g>
<path d="M408.0 251.5v-3.2M408.0 36.8v3.2M473.1 251.5v-3.2M473.1 36.8v3.2M538.2 251.5v-3.2M538.2 36.8v3.2M603.4 251.5v-3.2M603.4 36.8v3.2M668.5 251.5v-3.2M668.5 36.8v3.2M408.0 251.5h3.2M668.5 251.5h-3.2M408.0 213.5h3.2M668.5 213.5h-3.2M408.0 175.5h3.2M668.5 175.5h-3.2M408.0 137.5h3.2M668.5 137.5h-3.2M408.0 99.5h3.2M668.5 99.5h-3.2M408.0 61.4h3.2M668.5 61.4h-3.2" stroke="#262626" stroke-width="0.4" fill="none"/>
<rect x="408.0" y="36.8" width="260.5" height="214.7" fill="none" stroke="#262626" stroke-width="1.25"/>
<text x="401.0" y="255.9" font-size="15.5" text-anchor="end">0</text>
<text x="401.0" y="217.9" font-size="15.5" text-anchor="end">0.2</text>
<text x="401.0" y="179.9" font-size="15.5" text-anchor="end">0.4</text>
<text x="401.0" y="141.9" font-size="15.5" text-anchor="end">0.6</text>
<text x="401.0" y="103.9" font-size="15.5" text-anchor="end">0.8</text>
<text x="401.0" y="65.8" font-size="15.5" text-anchor="end">1</text>
<text x="408.0" y="271.9" font-size="15.5" text-anchor="middle">0</text>
<text x="473.1" y="271.9" font-size="15.5" text-anchor="middle">500</text>
<text x="538.2" y="271.9" font-size="15.5" text-anchor="middle">1000</text>
<text x="603.4" y="271.9" font-size="15.5" text-anchor="middle">1500</text>
<text x="668.5" y="271.9" font-size="15.5" text-anchor="middle">2000</text>
<text x="537.2" y="294.4" font-size="15.6" text-anchor="middle">Number of trials/100</text>
<text transform="translate(364,143.3) rotate(-90)" font-size="15.5" text-anchor="middle">Probability</text>
<text x="515.1" y="58.7" font-size="15.5">Target counts: 100</text>
<text x="411.5" y="29.8" font-size="15.5">×10<tspan font-size="11.5" dy="-6.6">-2</tspan></text>
<text x="355.0" y="16" font-size="21.5" font-weight="bold">b</text>
</g>
<g>
<clipPath id="cpc"><rect x="53.0" y="352.0" width="258.80" height="215.40"/></clipPath>
<g clip-path="url(#cpc)">
<path transform="matrix(0.129400,0,0,-6.14726667,53.0,567.4)" d="M779 0h154V1h2V2h2V0h4V1h2V0h4V1h4V2h4V0h2V2h2V1h2V0h4V3h4V4h2V2h6V4h2V2h2V5h2V8h2V3h2V5h2V2h2V1h2V7h2V4h2V5h2V8h2V9h2V6h4V7h4V4h2V8h6V7h2V11h2V6h2V9h2V13h4V12h2V10h2V11h4V6h2V16h2V9h2V10h2V14h2V10h2V15h2V16h2V15h2V14h2V13h2V20h2V14h2V13h2V11h2V10h2V14h4V10h2V16h2V12h2V13h2V14h2V10h2V8h2V11h4V9h2V6h2V14h2V7h2V11h2V9h6V5h2V9h2V10h2V11h4V9h2V8h2V11h4V7h2V6h2V2h2V8h2V3h2V5h2V3h2V1h2V3h8V4h2V3h2V6h2V3h2V7h2V3h2V2h4V1h4V3h2V2h2V1h2V2h2V0h4V1h4V2h2V1h2V0h4V1h2V0h2V1h2V0h2V1h2V0h26V1h2V0h22V1h2V0h190V0z" fill="#0072bd" fill-opacity="0.5"/>
<path transform="matrix(0.129400,0,0,-4.40573333,53.0,567.4)" d="M558 0h90V1h4V0h8V1h4V0h2V1h4V0h2V1h8V2h2V4h2V0h2V4h2V5h2V2h2V5h2V6h2V4h2V2h2V6h2V4h4V10h2V8h2V12h2V6h2V10h2V9h2V13h2V18h2V9h2V13h2V15h2V12h2V15h2V20h2V16h2V25h2V17h2V20h2V25h2V22h2V24h2V25h2V27h2V22h2V29h2V23h2V33h2V26h2V20h2V23h2V34h2V32h2V20h2V28h2V20h2V25h2V22h2V31h2V23h2V21h2V20h2V16h2V20h4V10h2V17h2V9h2V6h2V15h2V12h2V10h2V18h2V9h4V6h2V8h2V9h2V2h2V6h2V5h2V3h2V4h2V3h2V4h4V3h2V1h2V3h2V1h2V3h2V1h4V3h2V0h2V1h4V3h2V0h4V1h2V0h6V1h2V0h6V1h2V0h6V1h2V0h146V0z" fill="#d95319" fill-opacity="0.5"/>
<path transform="matrix(0.129400,0,0,-3.67913333,53.0,567.4)" d="M466 0h88V1h4V0h2V1h4V0h2V2h2V3h2V2h4V5h2V4h4V3h2V8h2V7h2V8h2V10h2V5h2V10h2V13h2V12h2V13h2V22h2V14h2V18h2V22h2V21h2V22h2V24h2V26h2V25h2V31h2V24h2V33h2V34h2V28h2V36h2V33h2V37h2V33h2V41h2V42h2V41h2V31h2V43h2V30h2V39h2V30h2V32h2V27h2V30h2V25h2V24h2V26h2V28h2V23h2V20h4V19h2V15h2V21h2V19h2V13h2V8h2V5h2V8h2V9h2V7h2V6h2V5h2V7h2V3h2V5h2V4h2V7h2V2h4V1h2V3h2V2h2V1h2V2h4V0h2V2h2V0h2V1h2V0h2V2h2V1h2V0h2V1h2V0h126V0z" fill="#edb120" fill-opacity="0.5"/>
<path transform="matrix(0.129400,0,0,-2.99866667,53.0,567.4)" d="M380 0h56V1h2V0h6V1h2V0h6V1h2V2h4V3h2V2h4V4h2V5h2V8h2V6h2V5h2V9h2V7h2V14h2V12h2V16h2V17h2V22h2V26h2V18h2V36h2V26h2V29h2V40h2V41h2V37h2V55h2V37h2V61h2V50h2V58h2V57h2V61h2V54h2V49h2V52h2V46h2V49h2V47h2V48h2V41h2V45h2V37h2V41h2V46h2V34h2V39h2V27h2V22h2V40h2V21h2V16h2V13h2V16h2V7h2V13h2V8h4V11h2V6h2V5h2V3h2V4h4V2h2V3h2V0h4V1h4V0h6V1h2V0h106V0z" fill="#7e2f8e" fill-opacity="0.5"/>
<path transform="matrix(0.129400,0,0,-2.46813333,53.0,567.4)" d="M313 0h54V3h2V1h4V4h2V1h4V4h4V13h2V8h2V7h2V14h2V17h2V20h2V17h2V20h2V21h2V34h2V38h2V45h2V47h2V44h2V53h2V58h2V62h2V64h2V82h2V71h2V78h2V82h2V79h2V78h2V73h2V75h4V67h2V68h2V59h2V50h2V63h2V50h2V39h2V44h2V24h2V29h4V20h2V16h2V14h2V9h4V11h2V9h2V6h2V3h4V4h2V0h2V3h2V2h2V0h14V1h2V0h78V0z" fill="#77ac30" fill-opacity="0.5"/>
<polyline points="153.9,567.4 154.6,567.4 155.4,567.4 156.1,567.4 156.8,567.4 157.5,567.4 158.2,567.4 158.9,567.4 159.6,567.4 160.3,567.4 161.0,567.4 161.8,567.4 162.5,567.4 163.2,567.4 163.9,567.4 164.6,567.4 165.3,567.4 166.0,567.4 166.7,567.4 167.5,567.4 168.2,567.3 168.9,567.3 169.6,567.2 170.3,567.1 171.0,567.0 171.7,566.9 172.4,566.6 173.1,566.3 173.9,565.9 174.6,565.3 175.3,564.6 176.0,563.7 176.7,562.6 177.4,561.1 178.1,559.4 178.8,557.3 179.6,554.8 180.3,551.9 181.0,548.6 181.7,544.9 182.4,540.8 183.1,536.4 183.8,531.7 184.5,526.9 185.2,522.1 186.0,517.3 186.7,512.8 187.4,508.7 188.1,505.0 188.8,502.1 189.5,499.8 190.2,498.5 190.9,498.0 191.7,498.5 192.4,499.8 193.1,502.1 193.8,505.0 194.5,508.7 195.2,512.8 195.9,517.3 196.6,522.1 197.3,526.9 198.1,531.7 198.8,536.4 199.5,540.8 200.2,544.9 200.9,548.6 201.6,551.9 202.3,554.8 203.0,557.3 203.8,559.4 204.5,561.1 205.2,562.6 205.9,563.7 206.6,564.6 207.3,565.3 208.0,565.9 208.7,566.3 209.4,566.6 210.2,566.9 210.9,567.0 211.6,567.1 212.3,567.2 213.0,567.3 213.7,567.3 214.4,567.4 215.1,567.4 215.9,567.4 216.6,567.4 217.3,567.4 218.0,567.4 218.7,567.4 219.4,567.4 220.1,567.4 220.8,567.4 221.5,567.4 222.3,567.4 223.0,567.4 223.7,567.4 224.4,567.4 225.1,567.4 225.8,567.4 226.5,567.4 227.2,567.4 228.0,567.4" fill="none" stroke="#444" stroke-width="0.55"/>
<polyline points="125.3,567.4 126.1,567.4 126.8,567.4 127.5,567.4 128.2,567.4 128.9,567.4 129.6,567.4 130.4,567.4 131.1,567.4 131.8,567.4 132.5,567.4 133.2,567.4 133.9,567.4 134.7,567.3 135.4,567.3 136.1,567.2 136.8,567.1 137.5,566.9 138.2,566.5 139.0,565.9 139.7,565.1 140.4,563.8 141.1,562.1 141.8,559.6 142.5,556.2 143.3,551.9 144.0,546.4 144.7,539.7 145.4,531.9 146.1,523.0 146.8,513.3 147.6,503.2 148.3,493.2 149.0,483.9 149.7,475.9 150.4,469.7 151.1,465.7 151.9,464.4 152.6,465.7 153.3,469.7 154.0,475.9 154.7,483.9 155.4,493.2 156.2,503.2 156.9,513.3 157.6,523.0 158.3,531.9 159.0,539.7 159.7,546.4 160.5,551.9 161.2,556.2 161.9,559.6 162.6,562.1 163.3,563.8 164.0,565.1 164.8,565.9 165.5,566.5 166.2,566.9 166.9,567.1 167.6,567.2 168.4,567.3 169.1,567.3 169.8,567.4 170.5,567.4 171.2,567.4 171.9,567.4 172.7,567.4 173.4,567.4 174.1,567.4 174.8,567.4 175.5,567.4 176.2,567.4 177.0,567.4 177.7,567.4 178.4,567.4" fill="none" stroke="#444" stroke-width="0.55"/>
<polyline points="113.4,567.4 114.1,567.4 114.8,567.4 115.5,567.4 116.3,567.4 117.0,567.4 117.7,567.4 118.4,567.4 119.1,567.4 119.8,567.4 120.6,567.4 121.3,567.3 122.0,567.3 122.7,567.1 123.4,566.9 124.1,566.4 124.8,565.6 125.6,564.4 126.3,562.4 127.0,559.4 127.7,555.0 128.4,549.1 129.1,541.2 129.8,531.4 130.6,519.7 131.3,506.6 132.0,492.7 132.7,478.9 133.4,466.5 134.1,456.6 134.8,450.2 135.6,448.0 136.3,450.2 137.0,456.6 137.7,466.5 138.4,478.9 139.1,492.7 139.8,506.6 140.6,519.7 141.3,531.4 142.0,541.2 142.7,549.1 143.4,555.0 144.1,559.4 144.8,562.4 145.6,564.4 146.3,565.6 147.0,566.4 147.7,566.9 148.4,567.1 149.1,567.3 149.8,567.3 150.6,567.4 151.3,567.4 152.0,567.4 152.7,567.4 153.4,567.4 154.1,567.4 154.9,567.4 155.6,567.4 156.3,567.4 157.0,567.4 157.7,567.4" fill="none" stroke="#444" stroke-width="0.55"/>
<polyline points="102.2,567.4 103.0,567.4 103.7,567.4 104.4,567.4 105.1,567.4 105.8,567.4 106.6,567.4 107.3,567.4 108.0,567.4 108.7,567.3 109.5,567.2 110.2,566.9 110.9,566.3 111.6,565.1 112.3,563.0 113.1,559.4 113.8,553.5 114.5,544.7 115.2,532.4 116.0,516.6 116.7,497.6 117.4,477.0 118.1,456.8 118.8,439.7 119.6,428.1 120.3,424.1 121.0,428.1 121.7,439.7 122.5,456.8 123.2,477.0 123.9,497.6 124.6,516.6 125.3,532.4 126.1,544.7 126.8,553.5 127.5,559.4 128.2,563.0 129.0,565.1 129.7,566.3 130.4,566.9 131.1,567.2 131.8,567.3 132.6,567.4 133.3,567.4 134.0,567.4 134.7,567.4 135.5,567.4 136.2,567.4 136.9,567.4 137.6,567.4 138.3,567.4" fill="none" stroke="#444" stroke-width="0.55"/>
<polyline points="93.5,567.4 94.2,567.4 95.0,567.4 95.7,567.4 96.4,567.4 97.1,567.4 97.9,567.4 98.6,567.3 99.3,567.2 100.0,566.8 100.8,565.8 101.5,563.6 102.2,559.2 102.9,551.1 103.7,537.7 104.4,517.8 105.1,491.3 105.8,460.2 106.6,428.8 107.3,402.9 108.0,388.2 108.7,388.2 109.5,402.9 110.2,428.8 110.9,460.2 111.6,491.3 112.4,517.8 113.1,537.7 113.8,551.1 114.5,559.2 115.3,563.6 116.0,565.8 116.7,566.8 117.4,567.2 118.2,567.3 118.9,567.4 119.6,567.4 120.3,567.4 121.1,567.4 121.8,567.4 122.5,567.4 123.2,567.4" fill="none" stroke="#444" stroke-width="0.55"/>
</g>
<path d="M53.0 567.4v-3.2M53.0 352.0v3.2M117.7 567.4v-3.2M117.7 352.0v3.2M182.4 567.4v-3.2M182.4 352.0v3.2M247.1 567.4v-3.2M247.1 352.0v3.2M311.8 567.4v-3.2M311.8 352.0v3.2M53.0 567.4h3.2M311.8 567.4h-3.2M53.0 524.1h3.2M311.8 524.1h-3.2M53.0 480.9h3.2M311.8 480.9h-3.2M53.0 437.6h3.2M311.8 437.6h-3.2M53.0 394.4h3.2M311.8 394.4h-3.2M53.0 351.1h3.2M311.8 351.1h-3.2" stroke="#262626" stroke-width="0.4" fill="none"/>
<path d="M52.5 350.8H312.3" stroke="#b0b0b0" stroke-width="1.2" fill="none"/>
<rect x="53.0" y="352.0" width="258.8" height="215.4" fill="none" stroke="#262626" stroke-width="1.25"/>
<text x="46.0" y="571.8" font-size="15.5" text-anchor="end">0</text>
<text x="46.0" y="528.5" font-size="15.5" text-anchor="end">0.5</text>
<text x="46.0" y="485.3" font-size="15.5" text-anchor="end">1</text>
<text x="46.0" y="442.0" font-size="15.5" text-anchor="end">1.5</text>
<text x="46.0" y="398.8" font-size="15.5" text-anchor="end">2</text>
<text x="46.0" y="355.5" font-size="15.5" text-anchor="end">2.5</text>
<text x="53.0" y="586.4" font-size="15.5" text-anchor="middle">0</text>
<text x="117.7" y="586.4" font-size="15.5" text-anchor="middle">500</text>
<text x="182.4" y="586.4" font-size="15.5" text-anchor="middle">1000</text>
<text x="247.1" y="586.4" font-size="15.5" text-anchor="middle">1500</text>
<text x="311.8" y="586.4" font-size="15.5" text-anchor="middle">2000</text>
<text x="181.4" y="608.5" font-size="15.6" text-anchor="middle">Number of trials/500</text>
<text transform="translate(10.6,459.5) rotate(-90)" font-size="15.5" text-anchor="middle">Probability</text>
<text x="161.3" y="377" font-size="15.5">Target counts: 500</text>
<text x="55.7" y="345.2" font-size="15.5">×10<tspan font-size="11.5" dy="-6.6">-2</tspan></text>
<text x="2.0" y="335.3" font-size="21.5" font-weight="bold">c</text>
</g>
<g>
<clipPath id="cpd"><rect x="407.0" y="352.3" width="261.40" height="217.20"/></clipPath>
<g clip-path="url(#cpd)">
<path transform="matrix(0.130700,0,0,-13.87811333,407.0,569.5)" d="M976 0h48V1h4V2h2V0h2V1h2V0h2V1h6V4h2V2h2V4h2V2h2V1h2V3h2V5h2V4h2V3h2V5h2V6h2V2h2V6h4V7h2V2h2V6h2V5h2V3h2V2h2V4h2V1h4V4h2V2h6V1h4V0h4V1h4V0h78V0z" fill="#0072bd" fill-opacity="0.5"/>
<path transform="matrix(0.130700,0,0,-9.98912000,407.0,569.5)" d="M702 0h38V1h4V2h2V1h4V5h2V2h2V12h2V9h2V6h2V8h2V7h2V16h2V10h2V11h2V5h2V6h2V8h2V7h2V4h2V3h2V4h2V1h10V2h2V0h6V1h2V0h50V0z" fill="#d95319" fill-opacity="0.5"/>
<path transform="matrix(0.130700,0,0,-8.29825333,407.0,569.5)" d="M583 0h34V1h4V3h2V5h2V3h2V10h4V11h2V27h2V14h2V11h2V9h2V14h2V11h2V10h2V7h4V3h2V4h2V2h2V1h4V0h48V0z" fill="#edb120" fill-opacity="0.5"/>
<path transform="matrix(0.130700,0,0,-6.79728400,407.0,569.5)" d="M478 0h24V1h4V5h2V9h2V8h2V10h2V15h2V14h2V16h2V20h2V24h2V19h2V17h4V12h2V3h2V4h2V5h2V4h2V0h2V1h2V0h2V1h2V0h32V0z" fill="#7e2f8e" fill-opacity="0.5"/>
<path transform="matrix(0.130700,0,0,-5.59286667,407.0,569.5)" d="M393 0h18V1h2V2h2V4h2V3h2V9h2V10h4V27h2V19h2V31h2V26h2V24h2V19h2V10h2V6h2V7h2V2h2V1h2V0h30V0z" fill="#77ac30" fill-opacity="0.5"/>
<polyline points="534.6,569.5 535.2,569.5 535.8,569.5 536.4,569.5 537.1,569.5 537.7,569.5 538.3,569.5 538.9,569.5 539.5,569.4 540.1,569.2 540.7,568.8 541.3,567.9 541.9,566.1 542.5,563.0 543.1,558.0 543.7,551.0 544.3,542.5 544.9,533.7 545.5,526.2 546.2,521.9 546.8,521.9 547.4,526.2 548.0,533.7 548.6,542.5 549.2,551.0 549.8,558.0 550.4,563.0 551.0,566.1 551.6,567.9 552.2,568.8 552.8,569.2 553.4,569.4 554.0,569.5 554.6,569.5 555.3,569.5 555.9,569.5 556.5,569.5 557.1,569.5 557.7,569.5 558.3,569.5" fill="none" stroke="#444" stroke-width="0.55"/>
<polyline points="498.9,569.5 499.3,569.5 499.7,569.5 500.2,569.5 500.6,569.5 501.0,569.5 501.5,569.5 501.9,569.5 502.4,569.4 502.8,569.1 503.2,568.4 503.7,566.9 504.1,564.1 504.5,558.9 505.0,550.9 505.4,539.6 505.8,525.8 506.3,511.4 506.7,499.3 507.2,492.4 507.6,492.4 508.0,499.3 508.5,511.4 508.9,525.8 509.3,539.6 509.8,550.9 510.2,558.9 510.7,564.1 511.1,566.9 511.5,568.4 512.0,569.1 512.4,569.4 512.8,569.5 513.3,569.5 513.7,569.5 514.1,569.5 514.6,569.5 515.0,569.5 515.5,569.5 515.9,569.5" fill="none" stroke="#444" stroke-width="0.55"/>
<polyline points="483.3,569.5 483.7,569.5 484.0,569.5 484.4,569.5 484.8,569.5 485.1,569.5 485.5,569.5 485.9,569.5 486.2,569.4 486.6,569.1 486.9,568.4 487.3,566.9 487.7,564.0 488.0,558.9 488.4,550.8 488.8,539.4 489.1,525.6 489.5,511.2 489.8,499.0 490.2,492.0 490.6,492.0 490.9,499.0 491.3,511.2 491.7,525.6 492.0,539.4 492.4,550.8 492.7,558.9 493.1,564.0 493.5,566.9 493.8,568.4 494.2,569.1 494.6,569.4 494.9,569.5 495.3,569.5 495.6,569.5 496.0,569.5 496.4,569.5 496.7,569.5 497.1,569.5 497.5,569.5" fill="none" stroke="#444" stroke-width="0.55"/>
<polyline points="469.5,569.5 469.8,569.5 470.1,569.5 470.4,569.5 470.7,569.5 471.0,569.5 471.3,569.5 471.6,569.4 471.9,569.3 472.2,569.0 472.5,568.1 472.8,566.2 473.1,562.5 473.4,555.9 473.7,545.5 474.0,531.0 474.3,513.2 474.6,494.8 474.9,479.2 475.2,470.2 475.5,470.2 475.7,479.2 476.0,494.8 476.3,513.2 476.6,531.0 476.9,545.5 477.2,555.9 477.5,562.5 477.8,566.2 478.1,568.1 478.4,569.0 478.7,569.3 479.0,569.4 479.3,569.5 479.6,569.5 479.9,569.5 480.2,569.5 480.5,569.5 480.8,569.5 481.1,569.5" fill="none" stroke="#444" stroke-width="0.55"/>
<polyline points="458.4,569.5 458.7,569.5 458.9,569.5 459.2,569.5 459.4,569.5 459.7,569.5 459.9,569.5 460.1,569.4 460.4,569.3 460.6,568.8 460.9,567.7 461.1,565.4 461.4,560.7 461.6,552.5 461.9,539.5 462.1,521.4 462.3,499.3 462.6,476.2 462.8,456.7 463.1,445.5 463.3,445.5 463.6,456.7 463.8,476.2 464.1,499.3 464.3,521.4 464.5,539.5 464.8,552.5 465.0,560.7 465.3,565.4 465.5,567.7 465.8,568.8 466.0,569.3 466.3,569.4 466.5,569.5 466.7,569.5 467.0,569.5 467.2,569.5 467.5,569.5 467.7,569.5 468.0,569.5" fill="none" stroke="#444" stroke-width="0.55"/>
</g>
<path d="M407.0 569.5v-3.2M407.0 352.3v3.2M472.4 569.5v-3.2M472.4 352.3v3.2M537.7 569.5v-3.2M537.7 352.3v3.2M603.0 569.5v-3.2M603.0 352.3v3.2M668.4 569.5v-3.2M668.4 352.3v3.2M407.0 569.5h3.2M668.4 569.5h-3.2M407.0 530.5h3.2M668.4 530.5h-3.2M407.0 491.5h3.2M668.4 491.5h-3.2M407.0 452.4h3.2M668.4 452.4h-3.2M407.0 413.4h3.2M668.4 413.4h-3.2M407.0 374.4h3.2M668.4 374.4h-3.2" stroke="#262626" stroke-width="0.4" fill="none"/>
<path d="M406.5 351.1H668.9" stroke="#b0b0b0" stroke-width="1.2" fill="none"/>
<rect x="407.0" y="352.3" width="261.4" height="217.2" fill="none" stroke="#262626" stroke-width="1.25"/>
<text x="400.0" y="573.9" font-size="15.5" text-anchor="end">0</text>
<text x="400.0" y="534.9" font-size="15.5" text-anchor="end">2</text>
<text x="400.0" y="495.9" font-size="15.5" text-anchor="end">4</text>
<text x="400.0" y="456.8" font-size="15.5" text-anchor="end">6</text>
<text x="400.0" y="417.8" font-size="15.5" text-anchor="end">8</text>
<text x="400.0" y="378.8" font-size="15.5" text-anchor="end">10</text>
<text x="407.0" y="586.4" font-size="15.5" text-anchor="middle">0</text>
<text x="472.4" y="586.4" font-size="15.5" text-anchor="middle">500</text>
<text x="537.7" y="586.4" font-size="15.5" text-anchor="middle">1000</text>
<text x="603.0" y="586.4" font-size="15.5" text-anchor="middle">1500</text>
<text x="668.4" y="586.4" font-size="15.5" text-anchor="middle">2000</text>
<text x="536.7" y="608.5" font-size="15.6" text-anchor="middle">Number of trials/5000</text>
<text transform="translate(369,459.8) rotate(-90)" font-size="15.5" text-anchor="middle">Probability</text>
<text x="507.4" y="374.7" font-size="15.5">Target counts: 5000</text>
<text x="410.1" y="345.2" font-size="15.5">×10<tspan font-size="11.5" dy="-6.6">-2</tspan></text>
<text x="354.2" y="335.3" font-size="21.5" font-weight="bold">d</text>
</g>
<path transform="matrix(1.0000,0.0000,0.0000,1.0000,0.000,0.000)" d="M36.59 198.77H39.72V203.01H36.59zM41.20 198.77H44.28V203.01H41.20z" fill="#fff"/>
<path transform="matrix(1.0000,0.0000,0.0000,1.0000,0.000,0.000)" d="M165.48 268.87H168.60V273.11H165.48zM170.08 268.87H173.16V273.11H170.08z" fill="#fff"/>
<path transform="matrix(1.0000,0.0000,0.0000,1.0000,0.000,0.000)" d="M225.28 268.87H228.40V273.11H225.28zM229.88 268.87H232.96V273.11H229.88z" fill="#fff"/>
<path transform="matrix(1.0000,0.0000,0.0000,1.0000,0.000,0.000)" d="M230.43 291.45H233.58V295.72H230.43zM235.06 291.45H238.16V295.72H235.06z" fill="#fff"/>
<path transform="matrix(1.0000,0.0000,0.0000,1.0000,0.000,0.000)" d="M273.58 54.97H276.70V59.21H273.58zM278.18 54.97H281.26V59.21H278.18z" fill="#fff"/>
<path transform="matrix(1.0000,0.0000,0.0000,1.0000,0.000,0.000)" d="M63.77 22.47H66.89V26.71H63.77zM68.37 22.47H71.45V26.71H68.37z" fill="#fff"/>
<path transform="matrix(1.0000,0.0000,0.0000,1.0000,0.000,0.000)" d="M393.09 62.77H396.22V67.01H393.09zM397.70 62.77H400.78V67.01H397.70z" fill="#fff"/>
<path transform="matrix(1.0000,0.0000,0.0000,1.0000,0.000,0.000)" d="M521.68 268.87H524.80V273.11H521.68zM526.28 268.87H529.36V273.11H526.28z" fill="#fff"/>
<path transform="matrix(1.0000,0.0000,0.0000,1.0000,0.000,0.000)" d="M586.88 268.87H590.00V273.11H586.88zM591.48 268.87H594.56V273.11H591.48z" fill="#fff"/>
<path transform="matrix(1.0000,0.0000,0.0000,1.0000,0.000,0.000)" d="M582.10 291.35H585.24V295.62H582.10zM586.73 291.35H589.83V295.62H586.73z" fill="#fff"/>
<path transform="matrix(1.0000,0.0000,0.0000,1.0000,0.000,0.000)" d="M617.48 55.67H620.60V59.91H617.48zM622.08 55.67H625.16V59.91H622.08z" fill="#fff"/>
<path transform="matrix(1.0000,0.0000,0.0000,1.0000,0.000,0.000)" d="M421.27 26.77H424.39V31.01H421.27zM425.87 26.77H428.95V31.01H425.87z" fill="#fff"/>
<path transform="matrix(1.0000,0.0000,0.0000,1.0000,0.000,0.000)" d="M38.09 482.27H41.22V486.51H38.09zM42.70 482.27H45.78V486.51H42.70z" fill="#fff"/>
<path transform="matrix(1.0000,0.0000,0.0000,1.0000,0.000,0.000)" d="M25.16 438.97H28.28V443.21H25.16zM29.76 438.97H32.84V443.21H29.76z" fill="#fff"/>
<path transform="matrix(1.0000,0.0000,0.0000,1.0000,0.000,0.000)" d="M165.88 583.37H169.00V587.61H165.88zM170.48 583.37H173.56V587.61H170.48z" fill="#fff"/>
<path transform="matrix(1.0000,0.0000,0.0000,1.0000,0.000,0.000)" d="M230.58 583.37H233.70V587.61H230.58zM235.18 583.37H238.26V587.61H235.18z" fill="#fff"/>
<path transform="matrix(1.0000,0.0000,0.0000,1.0000,0.000,0.000)" d="M65.47 342.17H68.59V346.41H65.47zM70.07 342.17H73.15V346.41H70.07z" fill="#fff"/>
<path transform="matrix(1.0000,0.0000,0.0000,1.0000,0.000,0.000)" d="M383.47 375.77H386.59V380.01H383.47zM388.07 375.77H391.15V380.01H388.07z" fill="#fff"/>
<path transform="matrix(1.0000,0.0000,0.0000,1.0000,0.000,0.000)" d="M521.18 583.37H524.30V587.61H521.18zM525.78 583.37H528.86V587.61H525.78z" fill="#fff"/>
<path transform="matrix(1.0000,0.0000,0.0000,1.0000,0.000,0.000)" d="M586.48 583.37H589.60V587.61H586.48zM591.08 583.37H594.16V587.61H591.08z" fill="#fff"/>
<path transform="matrix(1.0000,0.0000,0.0000,1.0000,0.000,0.000)" d="M419.87 342.17H422.99V346.41H419.87zM424.47 342.17H427.55V346.41H424.47z" fill="#fff"/>
</svg></body></html>
